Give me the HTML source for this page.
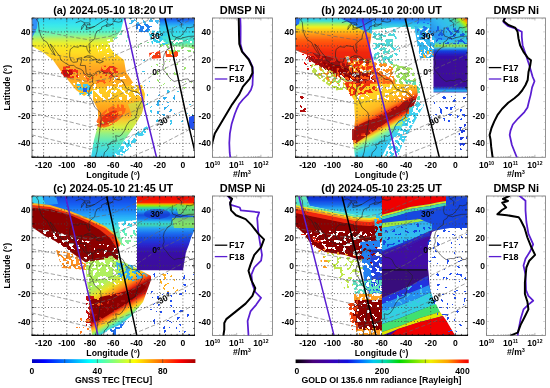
<!DOCTYPE html>
<html><head><meta charset="utf-8"><style>
html,body{margin:0;padding:0;background:#fff;}
svg{display:block;will-change:transform;}
text{font-family:"Liberation Sans",sans-serif;font-weight:bold;}
</style></head><body>
<svg width="550" height="388" viewBox="0 0 550 388">
<defs><filter id="blur" x="-5%" y="-5%" width="110%" height="110%"><feGaussianBlur stdDeviation="0.7"/></filter><filter id="fs05" x="0" y="0" width="550" height="388" filterUnits="userSpaceOnUse"><feTurbulence type="fractalNoise" baseFrequency="0.3" numOctaves="1" seed="7"/><feColorMatrix type="matrix" values="0 0 0 0 1 0 0 0 0 1 0 0 0 0 1 1 0 0 0 0"/><feComponentTransfer><feFuncA type="discrete" tableValues="0 0 0 0 0 0 0 0 0 0 0 0 0 0 0 0 0 0 0 0 0 0 0 0 0 0 0 1 1 1 1 1 1 1 1 1 1 1 1 1"/></feComponentTransfer></filter><mask id="s05" maskUnits="userSpaceOnUse" x="0" y="0" width="550" height="388"><rect x="0" y="0" width="550" height="388" fill="#fff" filter="url(#fs05)"/></mask><filter id="fs15" x="0" y="0" width="550" height="388" filterUnits="userSpaceOnUse"><feTurbulence type="fractalNoise" baseFrequency="0.3" numOctaves="1" seed="7"/><feColorMatrix type="matrix" values="0 0 0 0 1 0 0 0 0 1 0 0 0 0 1 1 0 0 0 0"/><feComponentTransfer><feFuncA type="discrete" tableValues="0 0 0 0 0 0 0 0 0 0 0 0 0 0 0 0 0 0 0 0 0 0 0 0 0 1 1 1 1 1 1 1 1 1 1 1 1 1 1 1"/></feComponentTransfer></filter><mask id="s15" maskUnits="userSpaceOnUse" x="0" y="0" width="550" height="388"><rect x="0" y="0" width="550" height="388" fill="#fff" filter="url(#fs15)"/></mask><filter id="fs30" x="0" y="0" width="550" height="388" filterUnits="userSpaceOnUse"><feTurbulence type="fractalNoise" baseFrequency="0.3" numOctaves="1" seed="7"/><feColorMatrix type="matrix" values="0 0 0 0 1 0 0 0 0 1 0 0 0 0 1 1 0 0 0 0"/><feComponentTransfer><feFuncA type="discrete" tableValues="0 0 0 0 0 0 0 0 0 0 0 0 0 0 0 0 0 0 0 0 0 0 0 1 1 1 1 1 1 1 1 1 1 1 1 1 1 1 1 1"/></feComponentTransfer></filter><mask id="s30" maskUnits="userSpaceOnUse" x="0" y="0" width="550" height="388"><rect x="0" y="0" width="550" height="388" fill="#fff" filter="url(#fs30)"/></mask><filter id="fs50" x="0" y="0" width="550" height="388" filterUnits="userSpaceOnUse"><feTurbulence type="fractalNoise" baseFrequency="0.3" numOctaves="1" seed="7"/><feColorMatrix type="matrix" values="0 0 0 0 1 0 0 0 0 1 0 0 0 0 1 1 0 0 0 0"/><feComponentTransfer><feFuncA type="discrete" tableValues="0 0 0 0 0 0 0 0 0 0 0 0 0 0 0 0 0 0 0 0 1 1 1 1 1 1 1 1 1 1 1 1 1 1 1 1 1 1 1 1"/></feComponentTransfer></filter><mask id="s50" maskUnits="userSpaceOnUse" x="0" y="0" width="550" height="388"><rect x="0" y="0" width="550" height="388" fill="#fff" filter="url(#fs50)"/></mask><filter id="fs70" x="0" y="0" width="550" height="388" filterUnits="userSpaceOnUse"><feTurbulence type="fractalNoise" baseFrequency="0.3" numOctaves="1" seed="7"/><feColorMatrix type="matrix" values="0 0 0 0 1 0 0 0 0 1 0 0 0 0 1 1 0 0 0 0"/><feComponentTransfer><feFuncA type="discrete" tableValues="0 0 0 0 0 0 0 0 0 0 0 0 0 0 0 0 0 1 1 1 1 1 1 1 1 1 1 1 1 1 1 1 1 1 1 1 1 1 1 1"/></feComponentTransfer></filter><mask id="s70" maskUnits="userSpaceOnUse" x="0" y="0" width="550" height="388"><rect x="0" y="0" width="550" height="388" fill="#fff" filter="url(#fs70)"/></mask><filter id="fs85" x="0" y="0" width="550" height="388" filterUnits="userSpaceOnUse"><feTurbulence type="fractalNoise" baseFrequency="0.3" numOctaves="1" seed="7"/><feColorMatrix type="matrix" values="0 0 0 0 1 0 0 0 0 1 0 0 0 0 1 1 0 0 0 0"/><feComponentTransfer><feFuncA type="discrete" tableValues="0 0 0 0 0 0 0 0 0 0 0 0 0 0 0 1 1 1 1 1 1 1 1 1 1 1 1 1 1 1 1 1 1 1 1 1 1 1 1 1"/></feComponentTransfer></filter><mask id="s85" maskUnits="userSpaceOnUse" x="0" y="0" width="550" height="388"><rect x="0" y="0" width="550" height="388" fill="#fff" filter="url(#fs85)"/></mask><clipPath id="clipa"><rect x="32" y="18" width="162.5" height="139.3"/></clipPath><linearGradient id="g1" gradientUnits="userSpaceOnUse" x1="0" y1="18" x2="0" y2="92"><stop offset="0.0000" stop-color="#30d0f8"/><stop offset="0.0946" stop-color="#38e8ec"/><stop offset="0.1757" stop-color="#50f0d0"/><stop offset="0.2297" stop-color="#80f4a0"/><stop offset="0.2838" stop-color="#c0f058"/><stop offset="0.3378" stop-color="#e8f030"/><stop offset="0.3919" stop-color="#f8e820"/><stop offset="0.4730" stop-color="#ffdc20"/><stop offset="0.5541" stop-color="#ffc820"/><stop offset="0.6351" stop-color="#ffb020"/><stop offset="0.7162" stop-color="#ffa020"/><stop offset="0.8243" stop-color="#ffa820"/><stop offset="1.0000" stop-color="#ffc020"/></linearGradient><linearGradient id="g2" gradientUnits="userSpaceOnUse" x1="0" y1="85" x2="0" y2="157.3"><stop offset="0.0000" stop-color="#ffd020"/><stop offset="0.1383" stop-color="#ffc820"/><stop offset="0.2628" stop-color="#ffb020"/><stop offset="0.3734" stop-color="#ff9818"/><stop offset="0.4841" stop-color="#f8c830"/><stop offset="0.5809" stop-color="#d8f040"/><stop offset="0.6777" stop-color="#90f088"/><stop offset="0.8022" stop-color="#50e8c8"/><stop offset="0.9959" stop-color="#38d0f0"/></linearGradient><linearGradient id="g3" gradientUnits="userSpaceOnUse" x1="0" y1="18" x2="0" y2="50"><stop offset="0.0000" stop-color="#1848e8"/><stop offset="0.1250" stop-color="#2088f8"/><stop offset="0.2812" stop-color="#30c8f0"/><stop offset="0.5312" stop-color="#38e0e8"/><stop offset="0.7500" stop-color="#50e8c0"/><stop offset="0.9375" stop-color="#a0f080"/></linearGradient><clipPath id="clipb"><rect x="295.5" y="18" width="172.1" height="139.3"/></clipPath><linearGradient id="g4" gradientUnits="userSpaceOnUse" x1="0" y1="18" x2="0" y2="92"><stop offset="0.0000" stop-color="#28c0f8"/><stop offset="0.0405" stop-color="#40e0d0"/><stop offset="0.0811" stop-color="#a0f060"/><stop offset="0.1216" stop-color="#f0f020"/><stop offset="0.1757" stop-color="#ffc018"/><stop offset="0.2297" stop-color="#ff9018"/><stop offset="0.2973" stop-color="#ff6010"/><stop offset="0.3784" stop-color="#ff4010"/><stop offset="0.4595" stop-color="#f02810"/><stop offset="0.5946" stop-color="#e82010"/><stop offset="0.7703" stop-color="#ff5010"/><stop offset="1.0000" stop-color="#ff8018"/></linearGradient><linearGradient id="g5" gradientUnits="userSpaceOnUse" x1="0" y1="18" x2="0" y2="34"><stop offset="0.0000" stop-color="#1848e8"/><stop offset="0.5000" stop-color="#2090f8"/><stop offset="1.0000" stop-color="#40d0e0"/></linearGradient><linearGradient id="g6" gradientUnits="userSpaceOnUse" x1="0" y1="18" x2="0" y2="30"><stop offset="0.0000" stop-color="#2060f0"/><stop offset="0.3333" stop-color="#20a8f8"/><stop offset="0.7500" stop-color="#40d8e0"/><stop offset="1.0000" stop-color="#60e8c0"/></linearGradient><linearGradient id="g7" gradientUnits="userSpaceOnUse" x1="365" y1="103" x2="386" y2="143"><stop offset="0.0000" stop-color="#ffd020"/><stop offset="0.2000" stop-color="#ffb820"/><stop offset="0.3200" stop-color="#ff8818"/><stop offset="0.4000" stop-color="#f03010"/><stop offset="0.4600" stop-color="#a00808"/><stop offset="0.5400" stop-color="#a00808"/><stop offset="0.6000" stop-color="#f03010"/><stop offset="0.6600" stop-color="#ff9018"/><stop offset="0.7200" stop-color="#e0f040"/><stop offset="0.8000" stop-color="#80f0a0"/><stop offset="0.9000" stop-color="#40d8e0"/><stop offset="1.0000" stop-color="#30c8f0"/></linearGradient><linearGradient id="g8" gradientUnits="userSpaceOnUse" x1="0" y1="28" x2="0" y2="93"><stop offset="0.0000" stop-color="#20b8f0"/><stop offset="0.1231" stop-color="#30d0e0"/><stop offset="0.2154" stop-color="#30c0f0"/><stop offset="0.2769" stop-color="#a0e840"/><stop offset="0.3077" stop-color="#40c0e0"/><stop offset="0.3538" stop-color="#1040e0"/><stop offset="0.4308" stop-color="#3010b0"/><stop offset="0.5231" stop-color="#3c0a9c"/><stop offset="0.8923" stop-color="#3c0a9c"/><stop offset="0.9385" stop-color="#2060e0"/><stop offset="0.9692" stop-color="#30c0f0"/><stop offset="1.0000" stop-color="#3c0a9c"/></linearGradient><linearGradient id="g9" gradientUnits="userSpaceOnUse" x1="440" y1="40" x2="467" y2="14"><stop offset="0.0000" stop-color="#2890f0"/><stop offset="0.3000" stop-color="#30b8f0"/><stop offset="0.5500" stop-color="#30c8e0"/><stop offset="0.6800" stop-color="#50e090"/><stop offset="0.7800" stop-color="#c0f000"/><stop offset="0.8600" stop-color="#ff9000"/><stop offset="0.9300" stop-color="#f00000"/><stop offset="1.0000" stop-color="#f00000"/></linearGradient><clipPath id="clipc"><rect x="32" y="196" width="162.5" height="139.4"/></clipPath><linearGradient id="g10" gradientUnits="userSpaceOnUse" x1="0" y1="196" x2="0" y2="240"><stop offset="0.0000" stop-color="#1040d8"/><stop offset="0.1591" stop-color="#1458f0"/><stop offset="0.3182" stop-color="#1c80f8"/><stop offset="0.4773" stop-color="#28b0f8"/><stop offset="0.6364" stop-color="#38d8f0"/><stop offset="0.8182" stop-color="#60f0c0"/><stop offset="1.0000" stop-color="#80f0a0"/></linearGradient><linearGradient id="g11" gradientUnits="userSpaceOnUse" x1="108" y1="280" x2="133" y2="323.3"><stop offset="0.0000" stop-color="#b0f060"/><stop offset="0.1500" stop-color="#f0e020"/><stop offset="0.2700" stop-color="#ff9018"/><stop offset="0.3600" stop-color="#f03010"/><stop offset="0.4200" stop-color="#a00808"/><stop offset="0.5500" stop-color="#a00808"/><stop offset="0.6000" stop-color="#e02010"/><stop offset="0.6600" stop-color="#ff8018"/><stop offset="0.7200" stop-color="#ffd020"/><stop offset="0.7800" stop-color="#a0f060"/><stop offset="0.8500" stop-color="#40e0d0"/><stop offset="0.9200" stop-color="#2098f0"/><stop offset="1.0000" stop-color="#2060f0"/></linearGradient><linearGradient id="g12" gradientUnits="userSpaceOnUse" x1="0" y1="196" x2="0" y2="272"><stop offset="0.0000" stop-color="#f00000"/><stop offset="0.0855" stop-color="#f82000"/><stop offset="0.1053" stop-color="#ffa000"/><stop offset="0.1250" stop-color="#a0e800"/><stop offset="0.1579" stop-color="#30d8a0"/><stop offset="0.1974" stop-color="#20a8f0"/><stop offset="0.2500" stop-color="#1850e0"/><stop offset="0.3026" stop-color="#1878f0"/><stop offset="0.3421" stop-color="#30c8e0"/><stop offset="0.3816" stop-color="#40d8b0"/><stop offset="0.4211" stop-color="#28a8f0"/><stop offset="0.4868" stop-color="#1c70f0"/><stop offset="0.5526" stop-color="#1848e0"/><stop offset="0.6316" stop-color="#2828d0"/><stop offset="0.7105" stop-color="#3414b0"/><stop offset="0.7895" stop-color="#3a0ca4"/><stop offset="1.0000" stop-color="#3c0a9c"/></linearGradient><clipPath id="clipd"><rect x="295.5" y="196" width="172.1" height="139.4"/></clipPath><linearGradient id="g13" gradientUnits="userSpaceOnUse" x1="0" y1="196" x2="0" y2="216"><stop offset="0.0000" stop-color="#0a28c8"/><stop offset="0.2000" stop-color="#1040e0"/><stop offset="0.4500" stop-color="#1870f0"/><stop offset="0.6500" stop-color="#28b0f0"/><stop offset="0.9000" stop-color="#40d8e0"/></linearGradient><linearGradient id="g14" gradientUnits="userSpaceOnUse" x1="0" y1="196" x2="0" y2="206"><stop offset="0.0000" stop-color="#70ecb0"/><stop offset="1.0000" stop-color="#40d8e0"/></linearGradient><linearGradient id="g15" gradientUnits="userSpaceOnUse" x1="0" y1="222" x2="0" y2="252"><stop offset="0.0000" stop-color="#30b0f0"/><stop offset="0.5000" stop-color="#30c0f0"/><stop offset="1.0000" stop-color="#2090f0"/></linearGradient><linearGradient id="g16" gradientUnits="userSpaceOnUse" x1="32" y1="0" x2="195.4" y2="0"><stop offset="0.0000" stop-color="#0000bc"/><stop offset="0.0250" stop-color="#0000d3"/><stop offset="0.0500" stop-color="#0000ea"/><stop offset="0.0750" stop-color="#0002ff"/><stop offset="0.1000" stop-color="#0019ff"/><stop offset="0.1250" stop-color="#0030ff"/><stop offset="0.1500" stop-color="#0047ff"/><stop offset="0.1750" stop-color="#005eff"/><stop offset="0.2000" stop-color="#0075ff"/><stop offset="0.2250" stop-color="#008cff"/><stop offset="0.2500" stop-color="#00a3ff"/><stop offset="0.2750" stop-color="#00baff"/><stop offset="0.3000" stop-color="#00d1ff"/><stop offset="0.3250" stop-color="#00e8ff"/><stop offset="0.3500" stop-color="#00ffff"/><stop offset="0.3750" stop-color="#16ffe8"/><stop offset="0.4000" stop-color="#2dffd1"/><stop offset="0.4250" stop-color="#44ffba"/><stop offset="0.4500" stop-color="#5bffa3"/><stop offset="0.4750" stop-color="#72ff8c"/><stop offset="0.5000" stop-color="#89ff75"/><stop offset="0.5250" stop-color="#a0ff5e"/><stop offset="0.5500" stop-color="#b7ff47"/><stop offset="0.5750" stop-color="#ceff30"/><stop offset="0.6000" stop-color="#e5ff19"/><stop offset="0.6250" stop-color="#fcff02"/><stop offset="0.6500" stop-color="#ffea00"/><stop offset="0.6750" stop-color="#ffd300"/><stop offset="0.7000" stop-color="#ffbc00"/><stop offset="0.7250" stop-color="#ffa500"/><stop offset="0.7500" stop-color="#ff8e00"/><stop offset="0.7750" stop-color="#ff7700"/><stop offset="0.8000" stop-color="#ff6000"/><stop offset="0.8250" stop-color="#ff4900"/><stop offset="0.8500" stop-color="#ff3300"/><stop offset="0.8750" stop-color="#ff1c00"/><stop offset="0.9000" stop-color="#ff0500"/><stop offset="0.9250" stop-color="#ed0000"/><stop offset="0.9500" stop-color="#d60000"/><stop offset="0.9750" stop-color="#bf0000"/><stop offset="1.0000" stop-color="#a80000"/></linearGradient><linearGradient id="g17" gradientUnits="userSpaceOnUse" x1="295.6" y1="0" x2="468.7" y2="0"><stop offset="0.0000" stop-color="#000000"/><stop offset="0.1000" stop-color="#48007a"/><stop offset="0.2000" stop-color="#3a00b0"/><stop offset="0.3000" stop-color="#1010e0"/><stop offset="0.3800" stop-color="#0070ff"/><stop offset="0.4500" stop-color="#00c8f0"/><stop offset="0.5200" stop-color="#00d8a0"/><stop offset="0.6000" stop-color="#00d800"/><stop offset="0.7000" stop-color="#80e800"/><stop offset="0.7800" stop-color="#f0f000"/><stop offset="0.8800" stop-color="#ffa000"/><stop offset="0.9500" stop-color="#ff3000"/><stop offset="1.0000" stop-color="#f00000"/></linearGradient></defs>
<g clip-path="url(#clipa)">
<rect x="32" y="18" width="162.5" height="139.3" fill="#fff"/>
<g filter="url(#blur)">
<polygon points="32,18 124,18 121,30 113,42 110,48 116,54 124,60 126,72 134,84 142,88 93,90 84,96 76,90 68,80 60,70 53,60 44,53 32,46" fill="url(#g1)"/>
<polygon points="32,18 38,18 37,28 32,38" fill="#3090f8"/>
<polygon points="70,76 134,76 142,88 93,90 84,96 76,90" fill="#ffffff" mask="url(#s30)"/>
<polygon points="106,40 124,36 124,56 112,50" fill="#ffffff" mask="url(#s50)"/>
<polygon points="60,67 70,66 78,70 78,78 66,78 61,73" fill="#f03018" mask="url(#s50)"/>
<polygon points="62,70 72,70 74,76 64,77" fill="#c81010" mask="url(#s70)"/>
<polygon points="102,66 112,65 118,69 118,77 106,77 100,72" fill="#f03018" mask="url(#s50)"/>
<polygon points="84,74 112,75 112,84 88,84" fill="#ff6018" mask="url(#s30)"/>
<polygon points="96,44 122,40 122,60 100,56" fill="#ffffff" mask="url(#s15)"/>
<polygon points="76,84 92,84 92,96 80,96" fill="#40c8f0" mask="url(#s50)"/>
<polygon points="83,88 87,88 87,92 83,92" fill="#2060f0"/>
<polygon points="93,88 142,85 145,94 144,104 142,113 136.5,122.7 129,134 123.3,141.5 117.7,151 112,157.3 91,157.3 94,140 98,125 98,110 93,100" fill="url(#g2)"/>
<polygon points="93,86 142,85 145,94 140,100 95,100" fill="#ffffff" mask="url(#s30)"/>
<ellipse cx="111.0" cy="116.0" rx="17.0" ry="8.0" transform="rotate(-35 111.0 116.0)" fill="#ff6018" fill-opacity="0.9" mask="url(#s70)"/>
<ellipse cx="109.0" cy="118.0" rx="11.0" ry="5.0" transform="rotate(-35 109.0 118.0)" fill="#e82810" fill-opacity="0.9" mask="url(#s85)"/>
<polygon points="128,104 144,100 142,113 136,123 128,132 124,128 132,116" fill="#c0f050" fill-opacity="0.6"/>
<polygon points="112,157.3 118,150 124,141 131,140 124,150 118,157.3" fill="#40d8f0" mask="url(#s50)"/>
<polygon points="118,152 132,140 146,126 150,129 136,142 122,156" fill="#40d0f0" mask="url(#s50)"/>
<polygon points="122,146 134,134 140,130 142,134 128,146" fill="#40d0f0" mask="url(#s30)"/>
<polygon points="160,18 194.5,18 194.5,48 184,47 172,46 164,42 159,32" fill="url(#g3)"/>
<polygon points="168,40 194.5,40 194.5,50 170,48" fill="#ffffff" mask="url(#s30)"/>
<polygon points="124,18 160,18 158,24 128,24" fill="#40b8f0" mask="url(#s30)"/>
<polygon points="112,30 130,28 130,42 114,44" fill="#80e0c0" mask="url(#s15)"/>
<polygon points="149,53 160,51 161,58 150,59" fill="#ff3810" mask="url(#s70)"/>
<polygon points="165,51 178,51 178,57 166,57" fill="#ff4818" mask="url(#s70)"/>
<polygon points="168,50 174,50 174,54 168,54" fill="#ffd020" mask="url(#s70)"/>
<polygon points="135,24 152,24 152,32 137,32" fill="#2080f0" mask="url(#s50)"/>
<polygon points="148,30 166,32 168,46 152,44" fill="#30d0f0" mask="url(#s50)"/>
<polygon points="138,42 152,42 152,48 138,48" fill="#80e090" mask="url(#s30)"/>
<polygon points="160,44 194.5,44 194.5,52 160,52" fill="#90e870" mask="url(#s30)"/>
<polygon points="140,60 194.5,58 194.5,126 150,126 145,100" fill="#40c8f0" mask="url(#s05)"/>
<polygon points="150,60 194.5,60 194.5,90 150,90" fill="#a0e870" mask="url(#s05)"/>
<polygon points="156,92 175,92 175,116 156,116" fill="#30b0f0" mask="url(#s15)"/>
<polygon points="189,117 194.5,115 194.5,130 189,128" fill="#2050f0"/>
</g>
<line x1="43.6" y1="18" x2="43.6" y2="157.3" stroke="#444" stroke-width="0.8" stroke-dasharray="1 2.2"/>
<line x1="66.8" y1="18" x2="66.8" y2="157.3" stroke="#444" stroke-width="0.8" stroke-dasharray="1 2.2"/>
<line x1="90" y1="18" x2="90" y2="157.3" stroke="#444" stroke-width="0.8" stroke-dasharray="1 2.2"/>
<line x1="113.2" y1="18" x2="113.2" y2="157.3" stroke="#444" stroke-width="0.8" stroke-dasharray="1 2.2"/>
<line x1="136.5" y1="18" x2="136.5" y2="157.3" stroke="#444" stroke-width="0.8" stroke-dasharray="1 2.2"/>
<line x1="159.7" y1="18" x2="159.7" y2="157.3" stroke="#444" stroke-width="0.8" stroke-dasharray="1 2.2"/>
<line x1="182.9" y1="18" x2="182.9" y2="157.3" stroke="#444" stroke-width="0.8" stroke-dasharray="1 2.2"/>
<line x1="32" y1="143.4" x2="194.5" y2="143.4" stroke="#444" stroke-width="0.8" stroke-dasharray="1 2.2"/>
<line x1="32" y1="129.4" x2="194.5" y2="129.4" stroke="#444" stroke-width="0.8" stroke-dasharray="1 2.2"/>
<line x1="32" y1="115.5" x2="194.5" y2="115.5" stroke="#444" stroke-width="0.8" stroke-dasharray="1 2.2"/>
<line x1="32" y1="101.6" x2="194.5" y2="101.6" stroke="#444" stroke-width="0.8" stroke-dasharray="1 2.2"/>
<line x1="32" y1="87.7" x2="194.5" y2="87.7" stroke="#444" stroke-width="0.8" stroke-dasharray="1 2.2"/>
<line x1="32" y1="73.7" x2="194.5" y2="73.7" stroke="#444" stroke-width="0.8" stroke-dasharray="1 2.2"/>
<line x1="32" y1="59.8" x2="194.5" y2="59.8" stroke="#444" stroke-width="0.8" stroke-dasharray="1 2.2"/>
<line x1="32" y1="45.9" x2="194.5" y2="45.9" stroke="#444" stroke-width="0.8" stroke-dasharray="1 2.2"/>
<line x1="32" y1="31.9" x2="194.5" y2="31.9" stroke="#444" stroke-width="0.8" stroke-dasharray="1 2.2"/>
<polyline points="32,29 66.8,36.1 90,40 110.9,36.1 136.5,25 157.4,16.6" fill="none" stroke="#666" stroke-width="0.6" stroke-linejoin="round" stroke-linecap="round" stroke-dasharray="3.5 3" stroke-linecap="butt"/>
<polyline points="32,50 66.8,57 90,61 110.9,57 136.5,45.9 157.4,35.6 194.5,18" fill="none" stroke="#666" stroke-width="0.6" stroke-linejoin="round" stroke-linecap="round" stroke-dasharray="3.5 3" stroke-linecap="butt"/>
<polyline points="32,70.9 66.8,77.9 90,81.9 110.9,77.9 136.5,66.8 157.4,54.2 194.5,36.1" fill="none" stroke="#666" stroke-width="0.6" stroke-linejoin="round" stroke-linecap="round" stroke-dasharray="3.5 3" stroke-linecap="butt"/>
<polyline points="32,92 66.8,98.8 90,103.9 110.9,98.8 136.5,86.3 157.4,72 194.5,54.2" fill="none" stroke="#666" stroke-width="0.6" stroke-linejoin="round" stroke-linecap="round" stroke-dasharray="3.5 3" stroke-linecap="butt"/>
<polyline points="32,113 66.8,121.1 90,126.9 110.9,121.1 136.5,109.9 159.7,97.4 194.5,79.3" fill="none" stroke="#666" stroke-width="0.6" stroke-linejoin="round" stroke-linecap="round" stroke-dasharray="3.5 3" stroke-linecap="butt"/>
<polyline points="32,134.9 66.8,143.4 90,148.9 110.9,143.4 136.5,133.6 163.2,121.1 194.5,104.4" fill="none" stroke="#666" stroke-width="0.6" stroke-linejoin="round" stroke-linecap="round" stroke-dasharray="3.5 3" stroke-linecap="butt"/>
<polyline points="32,155.9 66.8,164.3 110.9,164.3 136.5,154.5 163.2,143.4 194.5,126.7" fill="none" stroke="#666" stroke-width="0.6" stroke-linejoin="round" stroke-linecap="round" stroke-dasharray="3.5 3" stroke-linecap="butt"/>
<polyline points="35.5,18 38.4,22.2 39,29.1 40.7,35.4 43,39.6 47.1,42.4 48.8,45.9 50.6,49.3 52.9,52.8 55.2,55.6 54.1,52.8 52.3,48.6 50,44 52.3,45.9 54.1,48.6 56.4,52.1 59.9,56.3 60.7,59.8 64.5,62.6 69.1,65.4 73.8,65.4 76.1,67.5 80.8,69.3 83.1,70.9 83.7,73 85.4,74.4 87.7,76.1 90,77.2 91.2,75.1 92.9,77.2 92.4,82.1 93.5,83.5 90,87.7 88.9,91.8 88.9,96 91.2,98.8 94.7,107.2 100.5,112.7 101.3,119.7 99.9,129.4 98.7,139.2 97.6,146.2 97,151.7 95.3,157.3" fill="none" stroke="#222" stroke-width="0.6" stroke-linejoin="round" stroke-linecap="round" />
<polyline points="106.3,25 101.6,27.1 101.6,29.1 97,31.2 95.3,34.7 94.7,38.9 92.4,40.7 88.9,43.8 89.5,48.6 90,52.1 88.9,52.5 87.1,49.3 86.6,46.6 84.2,46.3 79.6,45.6 78.4,47.3 73.8,46.6 70.3,49.3 69.7,52.8 69.7,57 71.5,61.2 73.2,62.3 77.3,61.9 77.8,58.4 81.9,57.7 81.3,61.9 80.2,65.4 85.4,65.6 86,70.9 86,72.3 87.7,74.8 90.6,74.4 93.5,75.8 94.7,74.4 95.8,72.3 99.3,70.9 99.9,73 101.6,70.9 105.1,73 109.8,73 112.1,75.1 114.4,77.2 116.7,79.3 120.2,79.7 123.1,81.7 124.9,85.6 127.2,89 131.8,91.1 136.5,91.8 139.9,94.6 142.3,97.4 142.3,100.2 139.9,104.4 137.6,108.5 137,112.7 135.3,118.3 133,119.7 129.5,121.1 126.6,125.3 124.3,130.8 121.4,135 119.1,136.4 115.6,135.7 116.2,138.5 116.2,140.6 110.9,142 110.6,144.1 107.4,144.8 108.6,147.5 106.9,150.3 104.5,152.4 103.4,157.3" fill="none" stroke="#222" stroke-width="0.6" stroke-linejoin="round" stroke-linecap="round" />
<polyline points="84.2,57.3 87.7,55.6 92.4,56.3 96.8,59.5 92.9,59.9 90,57.4 86.6,57 84.2,57.3" fill="none" stroke="#222" stroke-width="0.6" stroke-linejoin="round" stroke-linecap="round" />
<polyline points="96.4,61.9 99.3,60.1 103.4,61.6 99.9,63 96.4,61.9" fill="none" stroke="#222" stroke-width="0.6" stroke-linejoin="round" stroke-linecap="round" />
<polyline points="76.1,22.6 80.8,20.8 84.8,22.9 81.9,26.4 81.3,29.6 83.1,27.1 84.8,23.9 87.1,27.8 91.2,27.3 94.7,26.4 90.3,28.4 86,29.6 87.1,24.5 90,25 89.5,22.9 84.8,22.9" fill="none" stroke="#222" stroke-width="0.6" stroke-linejoin="round" stroke-linecap="round" />
<polyline points="94.7,26.4 100.5,22.5 106.3,19.1 108,19.8 106.3,21.5 107.7,23.6 106.3,25" fill="none" stroke="#222" stroke-width="0.6" stroke-linejoin="round" stroke-linecap="round" />
<polyline points="106.3,25.7 108.6,24.3 112.1,24.3 113.2,23.3 109.8,25.7 106.3,26.6" fill="none" stroke="#222" stroke-width="0.6" stroke-linejoin="round" stroke-linecap="round" />
<polyline points="114.1,21.3 117.9,15.8 121.4,19.4 121.7,21.5 118.5,22.2 114.1,21.3" fill="none" stroke="#222" stroke-width="0.6" stroke-linejoin="round" stroke-linecap="round" />
<polyline points="172.4,27.8 171.9,33.3 172.7,36.1 175.9,37.1 176.5,37.5 180.6,36.4 182.9,33.7 186.4,29.1 186.7,27.3 189.9,27.8 194.5,26.4" fill="none" stroke="#222" stroke-width="0.6" stroke-linejoin="round" stroke-linecap="round" />
<polyline points="181.2,27.1 181.5,23.6 180,21.8 177.4,20.8 181,19.8 181.2,18.4 185.2,18" fill="none" stroke="#222" stroke-width="0.6" stroke-linejoin="round" stroke-linecap="round" />
<polyline points="194.5,36.1 192.8,36.2 188.7,36.4 182.9,37.8 180.6,38.8 176,37.8 175,40.3 171.9,42.4 171.5,46.6 167.8,49.2 166.1,51.4 164.3,54.2 163.2,58.4 163.7,60.5 164.1,64 162.8,67.2 163.5,70.2 165.5,72.3 167.2,74.4 169,77.2 171.3,79.3 174.2,81.5 178.2,80.4 181.7,80.7 184.1,79.3 188.1,78.9 189.9,81.7 192.8,81.4 194.2,82.8 194,85.6 193.7,89 194.5,91.1 196.6,93.9" fill="none" stroke="#222" stroke-width="0.6" stroke-linejoin="round" stroke-linecap="round" />
<polyline points="124.5,18 134.5,63 144.9,110 156.5,157.3" fill="none" stroke="#5a1ed2" stroke-width="1.5" stroke-linejoin="round" stroke-linecap="round" />
<polyline points="165,18 175.7,66.5 185,110 194.5,150" fill="none" stroke="#000" stroke-width="1.5" stroke-linejoin="round" stroke-linecap="round" />
<text x="156.8" y="38.6" transform="rotate(0 156.8 35.6)" font-family="Liberation Sans, sans-serif" font-weight="bold" font-size="8.6" text-anchor="middle" fill="#000">30°</text>
<text x="156.4" y="75.0" transform="rotate(0 156.4 72.0)" font-family="Liberation Sans, sans-serif" font-weight="bold" font-size="8.6" text-anchor="middle" fill="#000">0°</text>
<text x="163.2" y="124.1" transform="rotate(-28 163.2 121.1)" font-family="Liberation Sans, sans-serif" font-weight="bold" font-size="8.6" text-anchor="middle" fill="#000">-30°</text>
</g>
<rect x="32" y="18" width="162.5" height="139.3" fill="none" stroke="#666" stroke-width="0.9"/>
<line x1="31.6" y1="157.3" x2="194.9" y2="157.3" stroke="#111" stroke-width="1.1"/>
<line x1="32" y1="157.3" x2="32" y2="155.8" stroke="#000" stroke-width="0.6"/>
<line x1="32" y1="18" x2="32" y2="19.5" stroke="#000" stroke-width="0.6"/>
<line x1="37.8" y1="157.3" x2="37.8" y2="155.8" stroke="#000" stroke-width="0.6"/>
<line x1="37.8" y1="18" x2="37.8" y2="19.5" stroke="#000" stroke-width="0.6"/>
<line x1="43.6" y1="157.3" x2="43.6" y2="154.8" stroke="#000" stroke-width="0.6"/>
<line x1="43.6" y1="18" x2="43.6" y2="20.5" stroke="#000" stroke-width="0.6"/>
<line x1="49.4" y1="157.3" x2="49.4" y2="155.8" stroke="#000" stroke-width="0.6"/>
<line x1="49.4" y1="18" x2="49.4" y2="19.5" stroke="#000" stroke-width="0.6"/>
<line x1="55.2" y1="157.3" x2="55.2" y2="155.8" stroke="#000" stroke-width="0.6"/>
<line x1="55.2" y1="18" x2="55.2" y2="19.5" stroke="#000" stroke-width="0.6"/>
<line x1="61" y1="157.3" x2="61" y2="155.8" stroke="#000" stroke-width="0.6"/>
<line x1="61" y1="18" x2="61" y2="19.5" stroke="#000" stroke-width="0.6"/>
<line x1="66.8" y1="157.3" x2="66.8" y2="154.8" stroke="#000" stroke-width="0.6"/>
<line x1="66.8" y1="18" x2="66.8" y2="20.5" stroke="#000" stroke-width="0.6"/>
<line x1="72.6" y1="157.3" x2="72.6" y2="155.8" stroke="#000" stroke-width="0.6"/>
<line x1="72.6" y1="18" x2="72.6" y2="19.5" stroke="#000" stroke-width="0.6"/>
<line x1="78.4" y1="157.3" x2="78.4" y2="155.8" stroke="#000" stroke-width="0.6"/>
<line x1="78.4" y1="18" x2="78.4" y2="19.5" stroke="#000" stroke-width="0.6"/>
<line x1="84.2" y1="157.3" x2="84.2" y2="155.8" stroke="#000" stroke-width="0.6"/>
<line x1="84.2" y1="18" x2="84.2" y2="19.5" stroke="#000" stroke-width="0.6"/>
<line x1="90" y1="157.3" x2="90" y2="154.8" stroke="#000" stroke-width="0.6"/>
<line x1="90" y1="18" x2="90" y2="20.5" stroke="#000" stroke-width="0.6"/>
<line x1="95.8" y1="157.3" x2="95.8" y2="155.8" stroke="#000" stroke-width="0.6"/>
<line x1="95.8" y1="18" x2="95.8" y2="19.5" stroke="#000" stroke-width="0.6"/>
<line x1="101.6" y1="157.3" x2="101.6" y2="155.8" stroke="#000" stroke-width="0.6"/>
<line x1="101.6" y1="18" x2="101.6" y2="19.5" stroke="#000" stroke-width="0.6"/>
<line x1="107.4" y1="157.3" x2="107.4" y2="155.8" stroke="#000" stroke-width="0.6"/>
<line x1="107.4" y1="18" x2="107.4" y2="19.5" stroke="#000" stroke-width="0.6"/>
<line x1="113.2" y1="157.3" x2="113.2" y2="154.8" stroke="#000" stroke-width="0.6"/>
<line x1="113.2" y1="18" x2="113.2" y2="20.5" stroke="#000" stroke-width="0.6"/>
<line x1="119.1" y1="157.3" x2="119.1" y2="155.8" stroke="#000" stroke-width="0.6"/>
<line x1="119.1" y1="18" x2="119.1" y2="19.5" stroke="#000" stroke-width="0.6"/>
<line x1="124.9" y1="157.3" x2="124.9" y2="155.8" stroke="#000" stroke-width="0.6"/>
<line x1="124.9" y1="18" x2="124.9" y2="19.5" stroke="#000" stroke-width="0.6"/>
<line x1="130.7" y1="157.3" x2="130.7" y2="155.8" stroke="#000" stroke-width="0.6"/>
<line x1="130.7" y1="18" x2="130.7" y2="19.5" stroke="#000" stroke-width="0.6"/>
<line x1="136.5" y1="157.3" x2="136.5" y2="154.8" stroke="#000" stroke-width="0.6"/>
<line x1="136.5" y1="18" x2="136.5" y2="20.5" stroke="#000" stroke-width="0.6"/>
<line x1="142.3" y1="157.3" x2="142.3" y2="155.8" stroke="#000" stroke-width="0.6"/>
<line x1="142.3" y1="18" x2="142.3" y2="19.5" stroke="#000" stroke-width="0.6"/>
<line x1="148.1" y1="157.3" x2="148.1" y2="155.8" stroke="#000" stroke-width="0.6"/>
<line x1="148.1" y1="18" x2="148.1" y2="19.5" stroke="#000" stroke-width="0.6"/>
<line x1="153.9" y1="157.3" x2="153.9" y2="155.8" stroke="#000" stroke-width="0.6"/>
<line x1="153.9" y1="18" x2="153.9" y2="19.5" stroke="#000" stroke-width="0.6"/>
<line x1="159.7" y1="157.3" x2="159.7" y2="154.8" stroke="#000" stroke-width="0.6"/>
<line x1="159.7" y1="18" x2="159.7" y2="20.5" stroke="#000" stroke-width="0.6"/>
<line x1="165.5" y1="157.3" x2="165.5" y2="155.8" stroke="#000" stroke-width="0.6"/>
<line x1="165.5" y1="18" x2="165.5" y2="19.5" stroke="#000" stroke-width="0.6"/>
<line x1="171.3" y1="157.3" x2="171.3" y2="155.8" stroke="#000" stroke-width="0.6"/>
<line x1="171.3" y1="18" x2="171.3" y2="19.5" stroke="#000" stroke-width="0.6"/>
<line x1="177.1" y1="157.3" x2="177.1" y2="155.8" stroke="#000" stroke-width="0.6"/>
<line x1="177.1" y1="18" x2="177.1" y2="19.5" stroke="#000" stroke-width="0.6"/>
<line x1="182.9" y1="157.3" x2="182.9" y2="154.8" stroke="#000" stroke-width="0.6"/>
<line x1="182.9" y1="18" x2="182.9" y2="20.5" stroke="#000" stroke-width="0.6"/>
<line x1="188.7" y1="157.3" x2="188.7" y2="155.8" stroke="#000" stroke-width="0.6"/>
<line x1="188.7" y1="18" x2="188.7" y2="19.5" stroke="#000" stroke-width="0.6"/>
<line x1="194.5" y1="157.3" x2="194.5" y2="155.8" stroke="#000" stroke-width="0.6"/>
<line x1="194.5" y1="18" x2="194.5" y2="19.5" stroke="#000" stroke-width="0.6"/>
<line x1="32" y1="157.3" x2="34.5" y2="157.3" stroke="#000" stroke-width="0.6"/>
<line x1="194.5" y1="157.3" x2="192" y2="157.3" stroke="#000" stroke-width="0.6"/>
<line x1="32" y1="150.3" x2="33.5" y2="150.3" stroke="#000" stroke-width="0.6"/>
<line x1="194.5" y1="150.3" x2="193" y2="150.3" stroke="#000" stroke-width="0.6"/>
<line x1="32" y1="143.4" x2="34.5" y2="143.4" stroke="#000" stroke-width="0.6"/>
<line x1="194.5" y1="143.4" x2="192" y2="143.4" stroke="#000" stroke-width="0.6"/>
<line x1="32" y1="136.4" x2="33.5" y2="136.4" stroke="#000" stroke-width="0.6"/>
<line x1="194.5" y1="136.4" x2="193" y2="136.4" stroke="#000" stroke-width="0.6"/>
<line x1="32" y1="129.4" x2="34.5" y2="129.4" stroke="#000" stroke-width="0.6"/>
<line x1="194.5" y1="129.4" x2="192" y2="129.4" stroke="#000" stroke-width="0.6"/>
<line x1="32" y1="122.5" x2="33.5" y2="122.5" stroke="#000" stroke-width="0.6"/>
<line x1="194.5" y1="122.5" x2="193" y2="122.5" stroke="#000" stroke-width="0.6"/>
<line x1="32" y1="115.5" x2="34.5" y2="115.5" stroke="#000" stroke-width="0.6"/>
<line x1="194.5" y1="115.5" x2="192" y2="115.5" stroke="#000" stroke-width="0.6"/>
<line x1="32" y1="108.5" x2="33.5" y2="108.5" stroke="#000" stroke-width="0.6"/>
<line x1="194.5" y1="108.5" x2="193" y2="108.5" stroke="#000" stroke-width="0.6"/>
<line x1="32" y1="101.6" x2="34.5" y2="101.6" stroke="#000" stroke-width="0.6"/>
<line x1="194.5" y1="101.6" x2="192" y2="101.6" stroke="#000" stroke-width="0.6"/>
<line x1="32" y1="94.6" x2="33.5" y2="94.6" stroke="#000" stroke-width="0.6"/>
<line x1="194.5" y1="94.6" x2="193" y2="94.6" stroke="#000" stroke-width="0.6"/>
<line x1="32" y1="87.7" x2="34.5" y2="87.7" stroke="#000" stroke-width="0.6"/>
<line x1="194.5" y1="87.7" x2="192" y2="87.7" stroke="#000" stroke-width="0.6"/>
<line x1="32" y1="80.7" x2="33.5" y2="80.7" stroke="#000" stroke-width="0.6"/>
<line x1="194.5" y1="80.7" x2="193" y2="80.7" stroke="#000" stroke-width="0.6"/>
<line x1="32" y1="73.7" x2="34.5" y2="73.7" stroke="#000" stroke-width="0.6"/>
<line x1="194.5" y1="73.7" x2="192" y2="73.7" stroke="#000" stroke-width="0.6"/>
<line x1="32" y1="66.8" x2="33.5" y2="66.8" stroke="#000" stroke-width="0.6"/>
<line x1="194.5" y1="66.8" x2="193" y2="66.8" stroke="#000" stroke-width="0.6"/>
<line x1="32" y1="59.8" x2="34.5" y2="59.8" stroke="#000" stroke-width="0.6"/>
<line x1="194.5" y1="59.8" x2="192" y2="59.8" stroke="#000" stroke-width="0.6"/>
<line x1="32" y1="52.8" x2="33.5" y2="52.8" stroke="#000" stroke-width="0.6"/>
<line x1="194.5" y1="52.8" x2="193" y2="52.8" stroke="#000" stroke-width="0.6"/>
<line x1="32" y1="45.9" x2="34.5" y2="45.9" stroke="#000" stroke-width="0.6"/>
<line x1="194.5" y1="45.9" x2="192" y2="45.9" stroke="#000" stroke-width="0.6"/>
<line x1="32" y1="38.9" x2="33.5" y2="38.9" stroke="#000" stroke-width="0.6"/>
<line x1="194.5" y1="38.9" x2="193" y2="38.9" stroke="#000" stroke-width="0.6"/>
<line x1="32" y1="31.9" x2="34.5" y2="31.9" stroke="#000" stroke-width="0.6"/>
<line x1="194.5" y1="31.9" x2="192" y2="31.9" stroke="#000" stroke-width="0.6"/>
<line x1="32" y1="25" x2="33.5" y2="25" stroke="#000" stroke-width="0.6"/>
<line x1="194.5" y1="25" x2="193" y2="25" stroke="#000" stroke-width="0.6"/>
<line x1="32" y1="18" x2="34.5" y2="18" stroke="#000" stroke-width="0.6"/>
<line x1="194.5" y1="18" x2="192" y2="18" stroke="#000" stroke-width="0.6"/>
<text x="43.6" y="168.3" font-family="Liberation Sans, sans-serif" font-weight="bold" font-size="8.6" text-anchor="middle">-120</text>
<text x="66.8" y="168.3" font-family="Liberation Sans, sans-serif" font-weight="bold" font-size="8.6" text-anchor="middle">-100</text>
<text x="90" y="168.3" font-family="Liberation Sans, sans-serif" font-weight="bold" font-size="8.6" text-anchor="middle">-80</text>
<text x="113.2" y="168.3" font-family="Liberation Sans, sans-serif" font-weight="bold" font-size="8.6" text-anchor="middle">-60</text>
<text x="136.5" y="168.3" font-family="Liberation Sans, sans-serif" font-weight="bold" font-size="8.6" text-anchor="middle">-40</text>
<text x="159.7" y="168.3" font-family="Liberation Sans, sans-serif" font-weight="bold" font-size="8.6" text-anchor="middle">-20</text>
<text x="182.9" y="168.3" font-family="Liberation Sans, sans-serif" font-weight="bold" font-size="8.6" text-anchor="middle">0</text>
<text x="30.4" y="146.4" font-family="Liberation Sans, sans-serif" font-weight="bold" font-size="8.5" text-anchor="end">-40</text>
<text x="30.4" y="118.5" font-family="Liberation Sans, sans-serif" font-weight="bold" font-size="8.5" text-anchor="end">-20</text>
<text x="30.4" y="90.7" font-family="Liberation Sans, sans-serif" font-weight="bold" font-size="8.5" text-anchor="end">0</text>
<text x="30.4" y="62.8" font-family="Liberation Sans, sans-serif" font-weight="bold" font-size="8.5" text-anchor="end">20</text>
<text x="30.4" y="34.9" font-family="Liberation Sans, sans-serif" font-weight="bold" font-size="8.5" text-anchor="end">40</text>
<text x="113.2" y="177.8" font-family="Liberation Sans, sans-serif" font-weight="bold" font-size="8.7" text-anchor="middle">Longitude (°)</text>
<text transform="translate(10.2,87.7) rotate(-90)" font-family="Liberation Sans, sans-serif" font-weight="bold" font-size="8.7" text-anchor="middle">Latitude (°)</text>
<text x="113.2" y="13.6" font-family="Liberation Sans, sans-serif" font-weight="bold" font-size="10.85" text-anchor="middle">(a) 2024-05-10 18:20 UT</text>
<rect x="212.5" y="18" width="59.9" height="139.3" fill="#fff" stroke="#777" stroke-width="0.8"/>
<line x1="212.5" y1="157.3" x2="212.5" y2="154.8" stroke="#777" stroke-width="0.5"/>
<line x1="212.5" y1="18" x2="212.5" y2="20.5" stroke="#777" stroke-width="0.5"/>
<line x1="219.8" y1="157.3" x2="219.8" y2="156" stroke="#777" stroke-width="0.5"/>
<line x1="219.8" y1="18" x2="219.8" y2="19.3" stroke="#777" stroke-width="0.5"/>
<line x1="224" y1="157.3" x2="224" y2="156" stroke="#777" stroke-width="0.5"/>
<line x1="224" y1="18" x2="224" y2="19.3" stroke="#777" stroke-width="0.5"/>
<line x1="227.1" y1="157.3" x2="227.1" y2="156" stroke="#777" stroke-width="0.5"/>
<line x1="227.1" y1="18" x2="227.1" y2="19.3" stroke="#777" stroke-width="0.5"/>
<line x1="229.4" y1="157.3" x2="229.4" y2="156" stroke="#777" stroke-width="0.5"/>
<line x1="229.4" y1="18" x2="229.4" y2="19.3" stroke="#777" stroke-width="0.5"/>
<line x1="231.3" y1="157.3" x2="231.3" y2="156" stroke="#777" stroke-width="0.5"/>
<line x1="231.3" y1="18" x2="231.3" y2="19.3" stroke="#777" stroke-width="0.5"/>
<line x1="233" y1="157.3" x2="233" y2="156" stroke="#777" stroke-width="0.5"/>
<line x1="233" y1="18" x2="233" y2="19.3" stroke="#777" stroke-width="0.5"/>
<line x1="234.4" y1="157.3" x2="234.4" y2="156" stroke="#777" stroke-width="0.5"/>
<line x1="234.4" y1="18" x2="234.4" y2="19.3" stroke="#777" stroke-width="0.5"/>
<line x1="235.6" y1="157.3" x2="235.6" y2="156" stroke="#777" stroke-width="0.5"/>
<line x1="235.6" y1="18" x2="235.6" y2="19.3" stroke="#777" stroke-width="0.5"/>
<line x1="236.7" y1="157.3" x2="236.7" y2="154.8" stroke="#777" stroke-width="0.5"/>
<line x1="236.7" y1="18" x2="236.7" y2="20.5" stroke="#777" stroke-width="0.5"/>
<line x1="244" y1="157.3" x2="244" y2="156" stroke="#777" stroke-width="0.5"/>
<line x1="244" y1="18" x2="244" y2="19.3" stroke="#777" stroke-width="0.5"/>
<line x1="248.2" y1="157.3" x2="248.2" y2="156" stroke="#777" stroke-width="0.5"/>
<line x1="248.2" y1="18" x2="248.2" y2="19.3" stroke="#777" stroke-width="0.5"/>
<line x1="251.3" y1="157.3" x2="251.3" y2="156" stroke="#777" stroke-width="0.5"/>
<line x1="251.3" y1="18" x2="251.3" y2="19.3" stroke="#777" stroke-width="0.5"/>
<line x1="253.6" y1="157.3" x2="253.6" y2="156" stroke="#777" stroke-width="0.5"/>
<line x1="253.6" y1="18" x2="253.6" y2="19.3" stroke="#777" stroke-width="0.5"/>
<line x1="255.5" y1="157.3" x2="255.5" y2="156" stroke="#777" stroke-width="0.5"/>
<line x1="255.5" y1="18" x2="255.5" y2="19.3" stroke="#777" stroke-width="0.5"/>
<line x1="257.2" y1="157.3" x2="257.2" y2="156" stroke="#777" stroke-width="0.5"/>
<line x1="257.2" y1="18" x2="257.2" y2="19.3" stroke="#777" stroke-width="0.5"/>
<line x1="258.6" y1="157.3" x2="258.6" y2="156" stroke="#777" stroke-width="0.5"/>
<line x1="258.6" y1="18" x2="258.6" y2="19.3" stroke="#777" stroke-width="0.5"/>
<line x1="259.8" y1="157.3" x2="259.8" y2="156" stroke="#777" stroke-width="0.5"/>
<line x1="259.8" y1="18" x2="259.8" y2="19.3" stroke="#777" stroke-width="0.5"/>
<line x1="260.9" y1="157.3" x2="260.9" y2="154.8" stroke="#777" stroke-width="0.5"/>
<line x1="260.9" y1="18" x2="260.9" y2="20.5" stroke="#777" stroke-width="0.5"/>
<line x1="268.2" y1="157.3" x2="268.2" y2="156" stroke="#777" stroke-width="0.5"/>
<line x1="268.2" y1="18" x2="268.2" y2="19.3" stroke="#777" stroke-width="0.5"/>
<line x1="212.5" y1="157.3" x2="215" y2="157.3" stroke="#999" stroke-width="0.4"/>
<line x1="272.4" y1="157.3" x2="269.9" y2="157.3" stroke="#999" stroke-width="0.4"/>
<line x1="212.5" y1="150.3" x2="214" y2="150.3" stroke="#999" stroke-width="0.4"/>
<line x1="272.4" y1="150.3" x2="270.9" y2="150.3" stroke="#999" stroke-width="0.4"/>
<line x1="212.5" y1="143.4" x2="215" y2="143.4" stroke="#999" stroke-width="0.4"/>
<line x1="272.4" y1="143.4" x2="269.9" y2="143.4" stroke="#999" stroke-width="0.4"/>
<line x1="212.5" y1="136.4" x2="214" y2="136.4" stroke="#999" stroke-width="0.4"/>
<line x1="272.4" y1="136.4" x2="270.9" y2="136.4" stroke="#999" stroke-width="0.4"/>
<line x1="212.5" y1="129.4" x2="215" y2="129.4" stroke="#999" stroke-width="0.4"/>
<line x1="272.4" y1="129.4" x2="269.9" y2="129.4" stroke="#999" stroke-width="0.4"/>
<line x1="212.5" y1="122.5" x2="214" y2="122.5" stroke="#999" stroke-width="0.4"/>
<line x1="272.4" y1="122.5" x2="270.9" y2="122.5" stroke="#999" stroke-width="0.4"/>
<line x1="212.5" y1="115.5" x2="215" y2="115.5" stroke="#999" stroke-width="0.4"/>
<line x1="272.4" y1="115.5" x2="269.9" y2="115.5" stroke="#999" stroke-width="0.4"/>
<line x1="212.5" y1="108.5" x2="214" y2="108.5" stroke="#999" stroke-width="0.4"/>
<line x1="272.4" y1="108.5" x2="270.9" y2="108.5" stroke="#999" stroke-width="0.4"/>
<line x1="212.5" y1="101.6" x2="215" y2="101.6" stroke="#999" stroke-width="0.4"/>
<line x1="272.4" y1="101.6" x2="269.9" y2="101.6" stroke="#999" stroke-width="0.4"/>
<line x1="212.5" y1="94.6" x2="214" y2="94.6" stroke="#999" stroke-width="0.4"/>
<line x1="272.4" y1="94.6" x2="270.9" y2="94.6" stroke="#999" stroke-width="0.4"/>
<line x1="212.5" y1="87.7" x2="215" y2="87.7" stroke="#999" stroke-width="0.4"/>
<line x1="272.4" y1="87.7" x2="269.9" y2="87.7" stroke="#999" stroke-width="0.4"/>
<line x1="212.5" y1="80.7" x2="214" y2="80.7" stroke="#999" stroke-width="0.4"/>
<line x1="272.4" y1="80.7" x2="270.9" y2="80.7" stroke="#999" stroke-width="0.4"/>
<line x1="212.5" y1="73.7" x2="215" y2="73.7" stroke="#999" stroke-width="0.4"/>
<line x1="272.4" y1="73.7" x2="269.9" y2="73.7" stroke="#999" stroke-width="0.4"/>
<line x1="212.5" y1="66.8" x2="214" y2="66.8" stroke="#999" stroke-width="0.4"/>
<line x1="272.4" y1="66.8" x2="270.9" y2="66.8" stroke="#999" stroke-width="0.4"/>
<line x1="212.5" y1="59.8" x2="215" y2="59.8" stroke="#999" stroke-width="0.4"/>
<line x1="272.4" y1="59.8" x2="269.9" y2="59.8" stroke="#999" stroke-width="0.4"/>
<line x1="212.5" y1="52.8" x2="214" y2="52.8" stroke="#999" stroke-width="0.4"/>
<line x1="272.4" y1="52.8" x2="270.9" y2="52.8" stroke="#999" stroke-width="0.4"/>
<line x1="212.5" y1="45.9" x2="215" y2="45.9" stroke="#999" stroke-width="0.4"/>
<line x1="272.4" y1="45.9" x2="269.9" y2="45.9" stroke="#999" stroke-width="0.4"/>
<line x1="212.5" y1="38.9" x2="214" y2="38.9" stroke="#999" stroke-width="0.4"/>
<line x1="272.4" y1="38.9" x2="270.9" y2="38.9" stroke="#999" stroke-width="0.4"/>
<line x1="212.5" y1="31.9" x2="215" y2="31.9" stroke="#999" stroke-width="0.4"/>
<line x1="272.4" y1="31.9" x2="269.9" y2="31.9" stroke="#999" stroke-width="0.4"/>
<line x1="212.5" y1="25" x2="214" y2="25" stroke="#999" stroke-width="0.4"/>
<line x1="272.4" y1="25" x2="270.9" y2="25" stroke="#999" stroke-width="0.4"/>
<line x1="212.5" y1="18" x2="215" y2="18" stroke="#999" stroke-width="0.4"/>
<line x1="272.4" y1="18" x2="269.9" y2="18" stroke="#999" stroke-width="0.4"/>
<text x="210.9" y="146.4" font-family="Liberation Sans, sans-serif" font-weight="bold" font-size="8.5" text-anchor="end">-40</text>
<text x="210.9" y="118.5" font-family="Liberation Sans, sans-serif" font-weight="bold" font-size="8.5" text-anchor="end">-20</text>
<text x="210.9" y="90.7" font-family="Liberation Sans, sans-serif" font-weight="bold" font-size="8.5" text-anchor="end">0</text>
<text x="210.9" y="62.8" font-family="Liberation Sans, sans-serif" font-weight="bold" font-size="8.5" text-anchor="end">20</text>
<text x="210.9" y="34.9" font-family="Liberation Sans, sans-serif" font-weight="bold" font-size="8.5" text-anchor="end">40</text>
<text x="204.9" y="168.3" font-family="Liberation Sans, sans-serif" font-weight="bold" font-size="8.6"><tspan>10</tspan><tspan font-size="5" dy="-3.6">10</tspan></text>
<text x="229.1" y="168.3" font-family="Liberation Sans, sans-serif" font-weight="bold" font-size="8.6"><tspan>10</tspan><tspan font-size="5" dy="-3.6">11</tspan></text>
<text x="253.3" y="168.3" font-family="Liberation Sans, sans-serif" font-weight="bold" font-size="8.6"><tspan>10</tspan><tspan font-size="5" dy="-3.6">12</tspan></text>
<text x="233.1" y="177.1" font-family="Liberation Sans, sans-serif" font-weight="bold" font-size="8.6"><tspan>#/m</tspan><tspan font-size="5" dy="-3.6">3</tspan></text>
<text x="242.6" y="13.6" font-family="Liberation Sans, sans-serif" font-weight="bold" font-size="11" text-anchor="middle">DMSP Ni</text>
<defs><clipPath id="dca"><rect x="212.5" y="18" width="59.9" height="139.3"/></clipPath></defs>
<g clip-path="url(#dca)">
<polyline points="240.3,18 240.6,26 240.6,34.3 240.5,44 242.5,51.7 249.2,59.5 252.7,67.2 253,73 252.5,85 251,89.8 247.7,94.7 242.9,99.5 239,104.3 236.7,109.2 234.8,114 231.7,123.7 229.9,133.4 229.3,143 229.7,152.7 230.3,157.3" fill="none" stroke="#5a1ed2" stroke-width="1.75" stroke-linejoin="round" stroke-linecap="round" />
<polyline points="238.7,18 238.9,26 239,34.3 239.3,44 242,51.7 248.7,59.5 252.2,67.2 252.5,73 249.6,78.8 242.9,86.6 239,94.7 232.2,104.3 226.4,114 220.6,123.7 214.8,133.4 212.5,142 211,150" fill="none" stroke="#000" stroke-width="2.0" stroke-linejoin="round" stroke-linecap="round" />
</g>
<line x1="214.8" y1="67.6" x2="227.3" y2="67.6" stroke="#000" stroke-width="1.3"/>
<line x1="214.8" y1="79" x2="227.3" y2="79" stroke="#5a1ed2" stroke-width="1.3"/>
<text x="229" y="70.8" font-family="Liberation Sans, sans-serif" font-weight="bold" font-size="9">F17</text>
<text x="229" y="82.2" font-family="Liberation Sans, sans-serif" font-weight="bold" font-size="9">F18</text>
<g clip-path="url(#clipb)">
<rect x="295.5" y="18" width="172.1" height="139.3" fill="#fff"/>
<g filter="url(#blur)">
<polygon points="295.5,18 372,18 372,30 370,45 372,62 378,72 390,78 398,86 352,92 345,82 335,74 322,64 310,56 300,52 295.5,50" fill="url(#g4)"/>
<polygon points="295.5,18 300,18 299,24 295.5,26" fill="#2070f8"/>
<polygon points="340,18 372,18 372,34 362,30 350,23" fill="url(#g5)"/>
<polygon points="310,52 330,57 350,66 372,72 376,82 356,84 338,78 322,68 308,59" fill="#a00808" mask="url(#s70)"/>
<polygon points="322,62 345,68 360,76 350,80 330,72" fill="#900000" mask="url(#s50)"/>
<polygon points="335,72 398,76 398,92 345,92" fill="#ffffff" mask="url(#s30)"/>
<polygon points="300,52 322,58 325,72 305,70" fill="#e01010" mask="url(#s15)"/>
<polygon points="312,64 330,70 350,82 352,92 335,90 318,78 310,70" fill="#c0e050" mask="url(#s50)"/>
<polygon points="316,66 334,72 346,84 330,84 318,74" fill="#ff9020" mask="url(#s30)"/>
<polygon points="345,56 372,60 374,74 350,72" fill="#ffa020" mask="url(#s50)"/>
<polygon points="345,56 372,60 374,74 350,72" fill="#ffffff" mask="url(#s15)"/>
<polygon points="374,35 393,35 393,70 378,68" fill="#60d8c0" mask="url(#s50)"/>
<polygon points="330,76 352,80 352,92 335,90" fill="#90e070" mask="url(#s15)"/>
<polygon points="372,28 400,28 400,60 374,62" fill="#50d8e0" mask="url(#s30)"/>
<polygon points="372,60 400,62 418,85 396,86" fill="#a0e890" mask="url(#s15)"/>
<polygon points="372,62 392,64 396,86 376,86" fill="#ff9020" mask="url(#s50)"/>
<polygon points="392,64 412,68 418,86 396,86" fill="#a0e060" mask="url(#s50)"/>
<polygon points="404,80 420,82 420,100 408,100" fill="#60e0b0" mask="url(#s50)"/>
<polygon points="372,18 436,18 432,28 410,29 395,27 372,30" fill="url(#g6)"/>
<polygon points="395,27 420,27 420,48 398,46" fill="#ffffff" mask="url(#s70)"/>
<polygon points="414,26 436,28 436,58 420,58" fill="#30b8f0" mask="url(#s70)"/>
<polygon points="414,20 436,20 436,40 420,40" fill="#2070f0" mask="url(#s30)"/>
<polygon points="418,50 434,50 434,58 418,58" fill="#ffb020" mask="url(#s30)"/>
<polygon points="344,84 398,84 416.6,85 417.7,95 414,105 410,115 403.5,125 395.8,135 388,145 381.6,157.3 355,157.3 353,140 355,120 354,100" fill="url(#g7)"/>
<polygon points="344,84 418,85 412,100 354,100" fill="#ffffff" mask="url(#s30)"/>
<polygon points="344,82 372,80 378,92 350,96" fill="#f03010" mask="url(#s50)"/>
<polygon points="352,128 380,115 400,104 414,96 416,103 400,113 380,127 356,143 352,141" fill="#a00808" fill-opacity="0.9" mask="url(#s70)"/>
<polygon points="414,100 420,104 410,122 398,146 392,157.3 384,157.3 396,130" fill="#60e0d0" mask="url(#s50)"/>
<polygon points="395,125 420,100 424,105 410,130 400,150 398,157.3 385,157.3" fill="#40d0f0" mask="url(#s50)"/>
<polygon points="430,96 466,96 466,122 432,122" fill="#2050f0" mask="url(#s15)"/>
<polygon points="458,124 467.6,124 467.6,150 460,150" fill="#2040e0" mask="url(#s30)"/>
<polygon points="300,96 306,96 306,112 300,112" fill="#b01010" mask="url(#s30)"/>
<polygon points="436,28 467.6,28 467.6,92.5 433.5,92.5 433.5,50 436,40" fill="url(#g8)"/>
<polygon points="430,18 467.6,18 467.6,42 450,40 436,40 430,30" fill="url(#g9)"/>
<polygon points="436,26 467.6,30 467.6,44 436,44" fill="#1860e0" mask="url(#s30)"/>
</g>
<line x1="307.8" y1="18" x2="307.8" y2="157.3" stroke="#444" stroke-width="0.8" stroke-dasharray="1 2.2"/>
<line x1="332.4" y1="18" x2="332.4" y2="157.3" stroke="#444" stroke-width="0.8" stroke-dasharray="1 2.2"/>
<line x1="357" y1="18" x2="357" y2="157.3" stroke="#444" stroke-width="0.8" stroke-dasharray="1 2.2"/>
<line x1="381.6" y1="18" x2="381.6" y2="157.3" stroke="#444" stroke-width="0.8" stroke-dasharray="1 2.2"/>
<line x1="406.1" y1="18" x2="406.1" y2="157.3" stroke="#444" stroke-width="0.8" stroke-dasharray="1 2.2"/>
<line x1="430.7" y1="18" x2="430.7" y2="157.3" stroke="#444" stroke-width="0.8" stroke-dasharray="1 2.2"/>
<line x1="455.3" y1="18" x2="455.3" y2="157.3" stroke="#444" stroke-width="0.8" stroke-dasharray="1 2.2"/>
<line x1="295.5" y1="143.4" x2="467.6" y2="143.4" stroke="#444" stroke-width="0.8" stroke-dasharray="1 2.2"/>
<line x1="295.5" y1="129.4" x2="467.6" y2="129.4" stroke="#444" stroke-width="0.8" stroke-dasharray="1 2.2"/>
<line x1="295.5" y1="115.5" x2="467.6" y2="115.5" stroke="#444" stroke-width="0.8" stroke-dasharray="1 2.2"/>
<line x1="295.5" y1="101.6" x2="467.6" y2="101.6" stroke="#444" stroke-width="0.8" stroke-dasharray="1 2.2"/>
<line x1="295.5" y1="87.7" x2="467.6" y2="87.7" stroke="#444" stroke-width="0.8" stroke-dasharray="1 2.2"/>
<line x1="295.5" y1="73.7" x2="467.6" y2="73.7" stroke="#444" stroke-width="0.8" stroke-dasharray="1 2.2"/>
<line x1="295.5" y1="59.8" x2="467.6" y2="59.8" stroke="#444" stroke-width="0.8" stroke-dasharray="1 2.2"/>
<line x1="295.5" y1="45.9" x2="467.6" y2="45.9" stroke="#444" stroke-width="0.8" stroke-dasharray="1 2.2"/>
<line x1="295.5" y1="31.9" x2="467.6" y2="31.9" stroke="#444" stroke-width="0.8" stroke-dasharray="1 2.2"/>
<polyline points="295.5,29 332.4,36.1 357,40 379.1,36.1 406.1,25 428.3,16.6" fill="none" stroke="#666" stroke-width="0.6" stroke-linejoin="round" stroke-linecap="round" stroke-dasharray="3.5 3" stroke-linecap="butt"/>
<polyline points="295.5,50 332.4,57 357,61 379.1,57 406.1,45.9 428.3,35.6 467.6,18" fill="none" stroke="#666" stroke-width="0.6" stroke-linejoin="round" stroke-linecap="round" stroke-dasharray="3.5 3" stroke-linecap="butt"/>
<polyline points="295.5,70.9 332.4,77.9 357,81.9 379.1,77.9 406.1,66.8 428.3,54.2 467.6,36.1" fill="none" stroke="#666" stroke-width="0.6" stroke-linejoin="round" stroke-linecap="round" stroke-dasharray="3.5 3" stroke-linecap="butt"/>
<polyline points="295.5,92 332.4,98.8 357,103.9 379.1,98.8 406.1,86.3 428.3,72 467.6,54.2" fill="none" stroke="#666" stroke-width="0.6" stroke-linejoin="round" stroke-linecap="round" stroke-dasharray="3.5 3" stroke-linecap="butt"/>
<polyline points="295.5,113 332.4,121.1 357,126.9 379.1,121.1 406.1,109.9 430.7,97.4 467.6,79.3" fill="none" stroke="#666" stroke-width="0.6" stroke-linejoin="round" stroke-linecap="round" stroke-dasharray="3.5 3" stroke-linecap="butt"/>
<polyline points="295.5,134.9 332.4,143.4 357,148.9 379.1,143.4 406.1,133.6 434.4,121.1 467.6,104.4" fill="none" stroke="#666" stroke-width="0.6" stroke-linejoin="round" stroke-linecap="round" stroke-dasharray="3.5 3" stroke-linecap="butt"/>
<polyline points="295.5,155.9 332.4,164.3 379.1,164.3 406.1,154.5 434.4,143.4 467.6,126.7" fill="none" stroke="#666" stroke-width="0.6" stroke-linejoin="round" stroke-linecap="round" stroke-dasharray="3.5 3" stroke-linecap="butt"/>
<polyline points="299.2,18 302.3,22.2 302.9,29.1 304.7,35.4 307.2,39.6 311.5,42.4 313.3,45.9 315.2,49.3 317.6,52.8 320.1,55.6 318.9,52.8 317,48.6 314.6,44 317,45.9 318.9,48.6 321.3,52.1 325,56.3 325.9,59.8 329.9,62.6 334.8,65.4 339.8,65.4 342.2,67.5 347.1,69.3 349.6,70.9 350.2,73 352,74.4 354.5,76.1 357,77.2 358.2,75.1 360,77.2 359.4,82.1 360.7,83.5 357,87.7 355.7,91.8 355.7,96 358.2,98.8 361.9,107.2 368,112.7 368.9,119.7 367.4,129.4 366.2,139.2 365,146.2 364.3,151.7 362.5,157.3" fill="none" stroke="#222" stroke-width="0.6" stroke-linejoin="round" stroke-linecap="round" />
<polyline points="374.2,25 369.3,27.1 369.3,29.1 364.3,31.2 362.5,34.7 361.9,38.9 359.4,40.7 355.7,43.8 356.3,48.6 357,52.1 355.7,52.5 353.9,49.3 353.3,46.6 350.8,46.3 345.9,45.6 344.7,47.3 339.8,46.6 336.1,49.3 335.5,52.8 335.5,57 337.3,61.2 339.1,62.3 343.4,61.9 344.1,58.4 348.4,57.7 347.7,61.9 346.5,65.4 352,65.6 352.7,70.9 352.7,72.3 354.5,74.8 357.6,74.4 360.7,75.8 361.9,74.4 363.1,72.3 366.8,70.9 367.4,73 369.3,70.9 372.9,73 377.9,73 380.3,75.1 382.8,77.2 385.2,79.3 388.9,79.7 392,81.7 393.8,85.6 396.3,89 401.2,91.1 406.1,91.8 409.8,94.6 412.3,97.4 412.3,100.2 409.8,104.4 407.4,108.5 406.8,112.7 404.9,118.3 402.4,119.7 398.8,121.1 395.7,125.3 393.2,130.8 390.2,135 387.7,136.4 384,135.7 384.6,138.5 384.6,140.6 379.1,142 378.7,144.1 375.4,144.8 376.6,147.5 374.8,150.3 372.3,152.4 371.1,157.3" fill="none" stroke="#222" stroke-width="0.6" stroke-linejoin="round" stroke-linecap="round" />
<polyline points="350.8,57.3 354.5,55.6 359.4,56.3 364.1,59.5 360,59.9 357,57.4 353.3,57 350.8,57.3" fill="none" stroke="#222" stroke-width="0.6" stroke-linejoin="round" stroke-linecap="round" />
<polyline points="363.7,61.9 366.8,60.1 371.1,61.6 367.4,63 363.7,61.9" fill="none" stroke="#222" stroke-width="0.6" stroke-linejoin="round" stroke-linecap="round" />
<polyline points="342.2,22.6 347.1,20.8 351.4,22.9 348.4,26.4 347.7,29.6 349.6,27.1 351.4,23.9 353.9,27.8 358.2,27.3 361.9,26.4 357.2,28.4 352.7,29.6 353.9,24.5 357,25 356.3,22.9 351.4,22.9" fill="none" stroke="#222" stroke-width="0.6" stroke-linejoin="round" stroke-linecap="round" />
<polyline points="361.9,26.4 368,22.5 374.2,19.1 376,19.8 374.2,21.5 375.6,23.6 374.2,25" fill="none" stroke="#222" stroke-width="0.6" stroke-linejoin="round" stroke-linecap="round" />
<polyline points="374.2,25.7 376.6,24.3 380.3,24.3 381.6,23.3 377.9,25.7 374.2,26.6" fill="none" stroke="#222" stroke-width="0.6" stroke-linejoin="round" stroke-linecap="round" />
<polyline points="382.4,21.3 386.5,15.8 390.2,19.4 390.5,21.5 387.1,22.2 382.4,21.3" fill="none" stroke="#222" stroke-width="0.6" stroke-linejoin="round" stroke-linecap="round" />
<polyline points="444.2,27.8 443.6,33.3 444.5,36.1 447.9,37.1 448.5,37.5 452.8,36.4 455.3,33.7 459,29.1 459.4,27.3 462.7,27.8 467.6,26.4" fill="none" stroke="#222" stroke-width="0.6" stroke-linejoin="round" stroke-linecap="round" />
<polyline points="453.5,27.1 453.8,23.6 452.2,21.8 449.5,20.8 453.3,19.8 453.5,18.4 457.8,18" fill="none" stroke="#222" stroke-width="0.6" stroke-linejoin="round" stroke-linecap="round" />
<polyline points="467.6,36.1 465.8,36.2 461.5,36.4 455.3,37.8 452.8,38.8 448.1,37.8 446.9,40.3 443.6,42.4 443.3,46.6 439.3,49.2 437.5,51.4 435.6,54.2 434.4,58.4 435,60.5 435.4,64 434,67.2 434.8,70.2 436.9,72.3 438.7,74.4 440.6,77.2 443,79.3 446.1,81.5 450.4,80.4 454.1,80.7 456.5,79.3 460.8,78.9 462.7,81.7 465.8,81.4 467.2,82.8 467.1,85.6 466.7,89 467.6,91.1 469.8,93.9" fill="none" stroke="#222" stroke-width="0.6" stroke-linejoin="round" stroke-linecap="round" />
<polyline points="362,18 396.7,157.3" fill="none" stroke="#5a1ed2" stroke-width="1.5" stroke-linejoin="round" stroke-linecap="round" />
<polyline points="405,18 439.3,157.3" fill="none" stroke="#000" stroke-width="1.5" stroke-linejoin="round" stroke-linecap="round" />
<text x="427.6" y="38.6" transform="rotate(0 427.6 35.6)" font-family="Liberation Sans, sans-serif" font-weight="bold" font-size="8.6" text-anchor="middle" fill="#000">30°</text>
<text x="427.3" y="75.0" transform="rotate(0 427.3 72.0)" font-family="Liberation Sans, sans-serif" font-weight="bold" font-size="8.6" text-anchor="middle" fill="#000">0°</text>
<text x="434.4" y="124.1" transform="rotate(-28 434.4 121.1)" font-family="Liberation Sans, sans-serif" font-weight="bold" font-size="8.6" text-anchor="middle" fill="#000">-30°</text>
</g>
<rect x="295.5" y="18" width="172.1" height="139.3" fill="none" stroke="#666" stroke-width="0.9"/>
<line x1="295.1" y1="157.3" x2="468" y2="157.3" stroke="#111" stroke-width="1.1"/>
<line x1="295.5" y1="157.3" x2="295.5" y2="155.8" stroke="#000" stroke-width="0.6"/>
<line x1="295.5" y1="18" x2="295.5" y2="19.5" stroke="#000" stroke-width="0.6"/>
<line x1="301.6" y1="157.3" x2="301.6" y2="155.8" stroke="#000" stroke-width="0.6"/>
<line x1="301.6" y1="18" x2="301.6" y2="19.5" stroke="#000" stroke-width="0.6"/>
<line x1="307.8" y1="157.3" x2="307.8" y2="154.8" stroke="#000" stroke-width="0.6"/>
<line x1="307.8" y1="18" x2="307.8" y2="20.5" stroke="#000" stroke-width="0.6"/>
<line x1="313.9" y1="157.3" x2="313.9" y2="155.8" stroke="#000" stroke-width="0.6"/>
<line x1="313.9" y1="18" x2="313.9" y2="19.5" stroke="#000" stroke-width="0.6"/>
<line x1="320.1" y1="157.3" x2="320.1" y2="155.8" stroke="#000" stroke-width="0.6"/>
<line x1="320.1" y1="18" x2="320.1" y2="19.5" stroke="#000" stroke-width="0.6"/>
<line x1="326.2" y1="157.3" x2="326.2" y2="155.8" stroke="#000" stroke-width="0.6"/>
<line x1="326.2" y1="18" x2="326.2" y2="19.5" stroke="#000" stroke-width="0.6"/>
<line x1="332.4" y1="157.3" x2="332.4" y2="154.8" stroke="#000" stroke-width="0.6"/>
<line x1="332.4" y1="18" x2="332.4" y2="20.5" stroke="#000" stroke-width="0.6"/>
<line x1="338.5" y1="157.3" x2="338.5" y2="155.8" stroke="#000" stroke-width="0.6"/>
<line x1="338.5" y1="18" x2="338.5" y2="19.5" stroke="#000" stroke-width="0.6"/>
<line x1="344.7" y1="157.3" x2="344.7" y2="155.8" stroke="#000" stroke-width="0.6"/>
<line x1="344.7" y1="18" x2="344.7" y2="19.5" stroke="#000" stroke-width="0.6"/>
<line x1="350.8" y1="157.3" x2="350.8" y2="155.8" stroke="#000" stroke-width="0.6"/>
<line x1="350.8" y1="18" x2="350.8" y2="19.5" stroke="#000" stroke-width="0.6"/>
<line x1="357" y1="157.3" x2="357" y2="154.8" stroke="#000" stroke-width="0.6"/>
<line x1="357" y1="18" x2="357" y2="20.5" stroke="#000" stroke-width="0.6"/>
<line x1="363.1" y1="157.3" x2="363.1" y2="155.8" stroke="#000" stroke-width="0.6"/>
<line x1="363.1" y1="18" x2="363.1" y2="19.5" stroke="#000" stroke-width="0.6"/>
<line x1="369.3" y1="157.3" x2="369.3" y2="155.8" stroke="#000" stroke-width="0.6"/>
<line x1="369.3" y1="18" x2="369.3" y2="19.5" stroke="#000" stroke-width="0.6"/>
<line x1="375.4" y1="157.3" x2="375.4" y2="155.8" stroke="#000" stroke-width="0.6"/>
<line x1="375.4" y1="18" x2="375.4" y2="19.5" stroke="#000" stroke-width="0.6"/>
<line x1="381.6" y1="157.3" x2="381.6" y2="154.8" stroke="#000" stroke-width="0.6"/>
<line x1="381.6" y1="18" x2="381.6" y2="20.5" stroke="#000" stroke-width="0.6"/>
<line x1="387.7" y1="157.3" x2="387.7" y2="155.8" stroke="#000" stroke-width="0.6"/>
<line x1="387.7" y1="18" x2="387.7" y2="19.5" stroke="#000" stroke-width="0.6"/>
<line x1="393.8" y1="157.3" x2="393.8" y2="155.8" stroke="#000" stroke-width="0.6"/>
<line x1="393.8" y1="18" x2="393.8" y2="19.5" stroke="#000" stroke-width="0.6"/>
<line x1="400" y1="157.3" x2="400" y2="155.8" stroke="#000" stroke-width="0.6"/>
<line x1="400" y1="18" x2="400" y2="19.5" stroke="#000" stroke-width="0.6"/>
<line x1="406.1" y1="157.3" x2="406.1" y2="154.8" stroke="#000" stroke-width="0.6"/>
<line x1="406.1" y1="18" x2="406.1" y2="20.5" stroke="#000" stroke-width="0.6"/>
<line x1="412.3" y1="157.3" x2="412.3" y2="155.8" stroke="#000" stroke-width="0.6"/>
<line x1="412.3" y1="18" x2="412.3" y2="19.5" stroke="#000" stroke-width="0.6"/>
<line x1="418.4" y1="157.3" x2="418.4" y2="155.8" stroke="#000" stroke-width="0.6"/>
<line x1="418.4" y1="18" x2="418.4" y2="19.5" stroke="#000" stroke-width="0.6"/>
<line x1="424.6" y1="157.3" x2="424.6" y2="155.8" stroke="#000" stroke-width="0.6"/>
<line x1="424.6" y1="18" x2="424.6" y2="19.5" stroke="#000" stroke-width="0.6"/>
<line x1="430.7" y1="157.3" x2="430.7" y2="154.8" stroke="#000" stroke-width="0.6"/>
<line x1="430.7" y1="18" x2="430.7" y2="20.5" stroke="#000" stroke-width="0.6"/>
<line x1="436.9" y1="157.3" x2="436.9" y2="155.8" stroke="#000" stroke-width="0.6"/>
<line x1="436.9" y1="18" x2="436.9" y2="19.5" stroke="#000" stroke-width="0.6"/>
<line x1="443" y1="157.3" x2="443" y2="155.8" stroke="#000" stroke-width="0.6"/>
<line x1="443" y1="18" x2="443" y2="19.5" stroke="#000" stroke-width="0.6"/>
<line x1="449.2" y1="157.3" x2="449.2" y2="155.8" stroke="#000" stroke-width="0.6"/>
<line x1="449.2" y1="18" x2="449.2" y2="19.5" stroke="#000" stroke-width="0.6"/>
<line x1="455.3" y1="157.3" x2="455.3" y2="154.8" stroke="#000" stroke-width="0.6"/>
<line x1="455.3" y1="18" x2="455.3" y2="20.5" stroke="#000" stroke-width="0.6"/>
<line x1="461.5" y1="157.3" x2="461.5" y2="155.8" stroke="#000" stroke-width="0.6"/>
<line x1="461.5" y1="18" x2="461.5" y2="19.5" stroke="#000" stroke-width="0.6"/>
<line x1="467.6" y1="157.3" x2="467.6" y2="155.8" stroke="#000" stroke-width="0.6"/>
<line x1="467.6" y1="18" x2="467.6" y2="19.5" stroke="#000" stroke-width="0.6"/>
<line x1="295.5" y1="157.3" x2="298" y2="157.3" stroke="#000" stroke-width="0.6"/>
<line x1="467.6" y1="157.3" x2="465.1" y2="157.3" stroke="#000" stroke-width="0.6"/>
<line x1="295.5" y1="150.3" x2="297" y2="150.3" stroke="#000" stroke-width="0.6"/>
<line x1="467.6" y1="150.3" x2="466.1" y2="150.3" stroke="#000" stroke-width="0.6"/>
<line x1="295.5" y1="143.4" x2="298" y2="143.4" stroke="#000" stroke-width="0.6"/>
<line x1="467.6" y1="143.4" x2="465.1" y2="143.4" stroke="#000" stroke-width="0.6"/>
<line x1="295.5" y1="136.4" x2="297" y2="136.4" stroke="#000" stroke-width="0.6"/>
<line x1="467.6" y1="136.4" x2="466.1" y2="136.4" stroke="#000" stroke-width="0.6"/>
<line x1="295.5" y1="129.4" x2="298" y2="129.4" stroke="#000" stroke-width="0.6"/>
<line x1="467.6" y1="129.4" x2="465.1" y2="129.4" stroke="#000" stroke-width="0.6"/>
<line x1="295.5" y1="122.5" x2="297" y2="122.5" stroke="#000" stroke-width="0.6"/>
<line x1="467.6" y1="122.5" x2="466.1" y2="122.5" stroke="#000" stroke-width="0.6"/>
<line x1="295.5" y1="115.5" x2="298" y2="115.5" stroke="#000" stroke-width="0.6"/>
<line x1="467.6" y1="115.5" x2="465.1" y2="115.5" stroke="#000" stroke-width="0.6"/>
<line x1="295.5" y1="108.5" x2="297" y2="108.5" stroke="#000" stroke-width="0.6"/>
<line x1="467.6" y1="108.5" x2="466.1" y2="108.5" stroke="#000" stroke-width="0.6"/>
<line x1="295.5" y1="101.6" x2="298" y2="101.6" stroke="#000" stroke-width="0.6"/>
<line x1="467.6" y1="101.6" x2="465.1" y2="101.6" stroke="#000" stroke-width="0.6"/>
<line x1="295.5" y1="94.6" x2="297" y2="94.6" stroke="#000" stroke-width="0.6"/>
<line x1="467.6" y1="94.6" x2="466.1" y2="94.6" stroke="#000" stroke-width="0.6"/>
<line x1="295.5" y1="87.7" x2="298" y2="87.7" stroke="#000" stroke-width="0.6"/>
<line x1="467.6" y1="87.7" x2="465.1" y2="87.7" stroke="#000" stroke-width="0.6"/>
<line x1="295.5" y1="80.7" x2="297" y2="80.7" stroke="#000" stroke-width="0.6"/>
<line x1="467.6" y1="80.7" x2="466.1" y2="80.7" stroke="#000" stroke-width="0.6"/>
<line x1="295.5" y1="73.7" x2="298" y2="73.7" stroke="#000" stroke-width="0.6"/>
<line x1="467.6" y1="73.7" x2="465.1" y2="73.7" stroke="#000" stroke-width="0.6"/>
<line x1="295.5" y1="66.8" x2="297" y2="66.8" stroke="#000" stroke-width="0.6"/>
<line x1="467.6" y1="66.8" x2="466.1" y2="66.8" stroke="#000" stroke-width="0.6"/>
<line x1="295.5" y1="59.8" x2="298" y2="59.8" stroke="#000" stroke-width="0.6"/>
<line x1="467.6" y1="59.8" x2="465.1" y2="59.8" stroke="#000" stroke-width="0.6"/>
<line x1="295.5" y1="52.8" x2="297" y2="52.8" stroke="#000" stroke-width="0.6"/>
<line x1="467.6" y1="52.8" x2="466.1" y2="52.8" stroke="#000" stroke-width="0.6"/>
<line x1="295.5" y1="45.9" x2="298" y2="45.9" stroke="#000" stroke-width="0.6"/>
<line x1="467.6" y1="45.9" x2="465.1" y2="45.9" stroke="#000" stroke-width="0.6"/>
<line x1="295.5" y1="38.9" x2="297" y2="38.9" stroke="#000" stroke-width="0.6"/>
<line x1="467.6" y1="38.9" x2="466.1" y2="38.9" stroke="#000" stroke-width="0.6"/>
<line x1="295.5" y1="31.9" x2="298" y2="31.9" stroke="#000" stroke-width="0.6"/>
<line x1="467.6" y1="31.9" x2="465.1" y2="31.9" stroke="#000" stroke-width="0.6"/>
<line x1="295.5" y1="25" x2="297" y2="25" stroke="#000" stroke-width="0.6"/>
<line x1="467.6" y1="25" x2="466.1" y2="25" stroke="#000" stroke-width="0.6"/>
<line x1="295.5" y1="18" x2="298" y2="18" stroke="#000" stroke-width="0.6"/>
<line x1="467.6" y1="18" x2="465.1" y2="18" stroke="#000" stroke-width="0.6"/>
<text x="307.8" y="168.3" font-family="Liberation Sans, sans-serif" font-weight="bold" font-size="8.6" text-anchor="middle">-120</text>
<text x="332.4" y="168.3" font-family="Liberation Sans, sans-serif" font-weight="bold" font-size="8.6" text-anchor="middle">-100</text>
<text x="357" y="168.3" font-family="Liberation Sans, sans-serif" font-weight="bold" font-size="8.6" text-anchor="middle">-80</text>
<text x="381.6" y="168.3" font-family="Liberation Sans, sans-serif" font-weight="bold" font-size="8.6" text-anchor="middle">-60</text>
<text x="406.1" y="168.3" font-family="Liberation Sans, sans-serif" font-weight="bold" font-size="8.6" text-anchor="middle">-40</text>
<text x="430.7" y="168.3" font-family="Liberation Sans, sans-serif" font-weight="bold" font-size="8.6" text-anchor="middle">-20</text>
<text x="455.3" y="168.3" font-family="Liberation Sans, sans-serif" font-weight="bold" font-size="8.6" text-anchor="middle">0</text>
<text x="293.9" y="146.4" font-family="Liberation Sans, sans-serif" font-weight="bold" font-size="8.5" text-anchor="end">-40</text>
<text x="293.9" y="118.5" font-family="Liberation Sans, sans-serif" font-weight="bold" font-size="8.5" text-anchor="end">-20</text>
<text x="293.9" y="90.7" font-family="Liberation Sans, sans-serif" font-weight="bold" font-size="8.5" text-anchor="end">0</text>
<text x="293.9" y="62.8" font-family="Liberation Sans, sans-serif" font-weight="bold" font-size="8.5" text-anchor="end">20</text>
<text x="293.9" y="34.9" font-family="Liberation Sans, sans-serif" font-weight="bold" font-size="8.5" text-anchor="end">40</text>
<text x="381.6" y="177.8" font-family="Liberation Sans, sans-serif" font-weight="bold" font-size="8.7" text-anchor="middle">Longitude (°)</text>
<text x="381.6" y="13.6" font-family="Liberation Sans, sans-serif" font-weight="bold" font-size="10.85" text-anchor="middle">(b) 2024-05-10 20:00 UT</text>
<rect x="486.5" y="18" width="59.1" height="139.3" fill="#fff" stroke="#777" stroke-width="0.8"/>
<line x1="486.5" y1="157.3" x2="486.5" y2="154.8" stroke="#777" stroke-width="0.5"/>
<line x1="486.5" y1="18" x2="486.5" y2="20.5" stroke="#777" stroke-width="0.5"/>
<line x1="493.8" y1="157.3" x2="493.8" y2="156" stroke="#777" stroke-width="0.5"/>
<line x1="493.8" y1="18" x2="493.8" y2="19.3" stroke="#777" stroke-width="0.5"/>
<line x1="498" y1="157.3" x2="498" y2="156" stroke="#777" stroke-width="0.5"/>
<line x1="498" y1="18" x2="498" y2="19.3" stroke="#777" stroke-width="0.5"/>
<line x1="501.1" y1="157.3" x2="501.1" y2="156" stroke="#777" stroke-width="0.5"/>
<line x1="501.1" y1="18" x2="501.1" y2="19.3" stroke="#777" stroke-width="0.5"/>
<line x1="503.4" y1="157.3" x2="503.4" y2="156" stroke="#777" stroke-width="0.5"/>
<line x1="503.4" y1="18" x2="503.4" y2="19.3" stroke="#777" stroke-width="0.5"/>
<line x1="505.3" y1="157.3" x2="505.3" y2="156" stroke="#777" stroke-width="0.5"/>
<line x1="505.3" y1="18" x2="505.3" y2="19.3" stroke="#777" stroke-width="0.5"/>
<line x1="507" y1="157.3" x2="507" y2="156" stroke="#777" stroke-width="0.5"/>
<line x1="507" y1="18" x2="507" y2="19.3" stroke="#777" stroke-width="0.5"/>
<line x1="508.4" y1="157.3" x2="508.4" y2="156" stroke="#777" stroke-width="0.5"/>
<line x1="508.4" y1="18" x2="508.4" y2="19.3" stroke="#777" stroke-width="0.5"/>
<line x1="509.6" y1="157.3" x2="509.6" y2="156" stroke="#777" stroke-width="0.5"/>
<line x1="509.6" y1="18" x2="509.6" y2="19.3" stroke="#777" stroke-width="0.5"/>
<line x1="510.7" y1="157.3" x2="510.7" y2="154.8" stroke="#777" stroke-width="0.5"/>
<line x1="510.7" y1="18" x2="510.7" y2="20.5" stroke="#777" stroke-width="0.5"/>
<line x1="518" y1="157.3" x2="518" y2="156" stroke="#777" stroke-width="0.5"/>
<line x1="518" y1="18" x2="518" y2="19.3" stroke="#777" stroke-width="0.5"/>
<line x1="522.2" y1="157.3" x2="522.2" y2="156" stroke="#777" stroke-width="0.5"/>
<line x1="522.2" y1="18" x2="522.2" y2="19.3" stroke="#777" stroke-width="0.5"/>
<line x1="525.3" y1="157.3" x2="525.3" y2="156" stroke="#777" stroke-width="0.5"/>
<line x1="525.3" y1="18" x2="525.3" y2="19.3" stroke="#777" stroke-width="0.5"/>
<line x1="527.6" y1="157.3" x2="527.6" y2="156" stroke="#777" stroke-width="0.5"/>
<line x1="527.6" y1="18" x2="527.6" y2="19.3" stroke="#777" stroke-width="0.5"/>
<line x1="529.5" y1="157.3" x2="529.5" y2="156" stroke="#777" stroke-width="0.5"/>
<line x1="529.5" y1="18" x2="529.5" y2="19.3" stroke="#777" stroke-width="0.5"/>
<line x1="531.2" y1="157.3" x2="531.2" y2="156" stroke="#777" stroke-width="0.5"/>
<line x1="531.2" y1="18" x2="531.2" y2="19.3" stroke="#777" stroke-width="0.5"/>
<line x1="532.6" y1="157.3" x2="532.6" y2="156" stroke="#777" stroke-width="0.5"/>
<line x1="532.6" y1="18" x2="532.6" y2="19.3" stroke="#777" stroke-width="0.5"/>
<line x1="533.8" y1="157.3" x2="533.8" y2="156" stroke="#777" stroke-width="0.5"/>
<line x1="533.8" y1="18" x2="533.8" y2="19.3" stroke="#777" stroke-width="0.5"/>
<line x1="534.9" y1="157.3" x2="534.9" y2="154.8" stroke="#777" stroke-width="0.5"/>
<line x1="534.9" y1="18" x2="534.9" y2="20.5" stroke="#777" stroke-width="0.5"/>
<line x1="542.2" y1="157.3" x2="542.2" y2="156" stroke="#777" stroke-width="0.5"/>
<line x1="542.2" y1="18" x2="542.2" y2="19.3" stroke="#777" stroke-width="0.5"/>
<line x1="486.5" y1="157.3" x2="489" y2="157.3" stroke="#999" stroke-width="0.4"/>
<line x1="545.6" y1="157.3" x2="543.1" y2="157.3" stroke="#999" stroke-width="0.4"/>
<line x1="486.5" y1="150.3" x2="488" y2="150.3" stroke="#999" stroke-width="0.4"/>
<line x1="545.6" y1="150.3" x2="544.1" y2="150.3" stroke="#999" stroke-width="0.4"/>
<line x1="486.5" y1="143.4" x2="489" y2="143.4" stroke="#999" stroke-width="0.4"/>
<line x1="545.6" y1="143.4" x2="543.1" y2="143.4" stroke="#999" stroke-width="0.4"/>
<line x1="486.5" y1="136.4" x2="488" y2="136.4" stroke="#999" stroke-width="0.4"/>
<line x1="545.6" y1="136.4" x2="544.1" y2="136.4" stroke="#999" stroke-width="0.4"/>
<line x1="486.5" y1="129.4" x2="489" y2="129.4" stroke="#999" stroke-width="0.4"/>
<line x1="545.6" y1="129.4" x2="543.1" y2="129.4" stroke="#999" stroke-width="0.4"/>
<line x1="486.5" y1="122.5" x2="488" y2="122.5" stroke="#999" stroke-width="0.4"/>
<line x1="545.6" y1="122.5" x2="544.1" y2="122.5" stroke="#999" stroke-width="0.4"/>
<line x1="486.5" y1="115.5" x2="489" y2="115.5" stroke="#999" stroke-width="0.4"/>
<line x1="545.6" y1="115.5" x2="543.1" y2="115.5" stroke="#999" stroke-width="0.4"/>
<line x1="486.5" y1="108.5" x2="488" y2="108.5" stroke="#999" stroke-width="0.4"/>
<line x1="545.6" y1="108.5" x2="544.1" y2="108.5" stroke="#999" stroke-width="0.4"/>
<line x1="486.5" y1="101.6" x2="489" y2="101.6" stroke="#999" stroke-width="0.4"/>
<line x1="545.6" y1="101.6" x2="543.1" y2="101.6" stroke="#999" stroke-width="0.4"/>
<line x1="486.5" y1="94.6" x2="488" y2="94.6" stroke="#999" stroke-width="0.4"/>
<line x1="545.6" y1="94.6" x2="544.1" y2="94.6" stroke="#999" stroke-width="0.4"/>
<line x1="486.5" y1="87.7" x2="489" y2="87.7" stroke="#999" stroke-width="0.4"/>
<line x1="545.6" y1="87.7" x2="543.1" y2="87.7" stroke="#999" stroke-width="0.4"/>
<line x1="486.5" y1="80.7" x2="488" y2="80.7" stroke="#999" stroke-width="0.4"/>
<line x1="545.6" y1="80.7" x2="544.1" y2="80.7" stroke="#999" stroke-width="0.4"/>
<line x1="486.5" y1="73.7" x2="489" y2="73.7" stroke="#999" stroke-width="0.4"/>
<line x1="545.6" y1="73.7" x2="543.1" y2="73.7" stroke="#999" stroke-width="0.4"/>
<line x1="486.5" y1="66.8" x2="488" y2="66.8" stroke="#999" stroke-width="0.4"/>
<line x1="545.6" y1="66.8" x2="544.1" y2="66.8" stroke="#999" stroke-width="0.4"/>
<line x1="486.5" y1="59.8" x2="489" y2="59.8" stroke="#999" stroke-width="0.4"/>
<line x1="545.6" y1="59.8" x2="543.1" y2="59.8" stroke="#999" stroke-width="0.4"/>
<line x1="486.5" y1="52.8" x2="488" y2="52.8" stroke="#999" stroke-width="0.4"/>
<line x1="545.6" y1="52.8" x2="544.1" y2="52.8" stroke="#999" stroke-width="0.4"/>
<line x1="486.5" y1="45.9" x2="489" y2="45.9" stroke="#999" stroke-width="0.4"/>
<line x1="545.6" y1="45.9" x2="543.1" y2="45.9" stroke="#999" stroke-width="0.4"/>
<line x1="486.5" y1="38.9" x2="488" y2="38.9" stroke="#999" stroke-width="0.4"/>
<line x1="545.6" y1="38.9" x2="544.1" y2="38.9" stroke="#999" stroke-width="0.4"/>
<line x1="486.5" y1="31.9" x2="489" y2="31.9" stroke="#999" stroke-width="0.4"/>
<line x1="545.6" y1="31.9" x2="543.1" y2="31.9" stroke="#999" stroke-width="0.4"/>
<line x1="486.5" y1="25" x2="488" y2="25" stroke="#999" stroke-width="0.4"/>
<line x1="545.6" y1="25" x2="544.1" y2="25" stroke="#999" stroke-width="0.4"/>
<line x1="486.5" y1="18" x2="489" y2="18" stroke="#999" stroke-width="0.4"/>
<line x1="545.6" y1="18" x2="543.1" y2="18" stroke="#999" stroke-width="0.4"/>
<text x="484.9" y="146.4" font-family="Liberation Sans, sans-serif" font-weight="bold" font-size="8.5" text-anchor="end">-40</text>
<text x="484.9" y="118.5" font-family="Liberation Sans, sans-serif" font-weight="bold" font-size="8.5" text-anchor="end">-20</text>
<text x="484.9" y="90.7" font-family="Liberation Sans, sans-serif" font-weight="bold" font-size="8.5" text-anchor="end">0</text>
<text x="484.9" y="62.8" font-family="Liberation Sans, sans-serif" font-weight="bold" font-size="8.5" text-anchor="end">20</text>
<text x="484.9" y="34.9" font-family="Liberation Sans, sans-serif" font-weight="bold" font-size="8.5" text-anchor="end">40</text>
<text x="478.9" y="168.3" font-family="Liberation Sans, sans-serif" font-weight="bold" font-size="8.6"><tspan>10</tspan><tspan font-size="5" dy="-3.6">10</tspan></text>
<text x="503.1" y="168.3" font-family="Liberation Sans, sans-serif" font-weight="bold" font-size="8.6"><tspan>10</tspan><tspan font-size="5" dy="-3.6">11</tspan></text>
<text x="527.3" y="168.3" font-family="Liberation Sans, sans-serif" font-weight="bold" font-size="8.6"><tspan>10</tspan><tspan font-size="5" dy="-3.6">12</tspan></text>
<text x="507.1" y="177.1" font-family="Liberation Sans, sans-serif" font-weight="bold" font-size="8.6"><tspan>#/m</tspan><tspan font-size="5" dy="-3.6">3</tspan></text>
<text x="516.2" y="13.6" font-family="Liberation Sans, sans-serif" font-weight="bold" font-size="11" text-anchor="middle">DMSP Ni</text>
<defs><clipPath id="dcb"><rect x="486.5" y="18" width="59.1" height="139.3"/></clipPath></defs>
<g clip-path="url(#dcb)">
<polyline points="505,18 503.5,22 508,26 515,28.5 516.8,29.2 521.8,31.8 521.8,36.8 522.6,45.2 526,55.2 529.3,65.3 532.7,77 534.5,81.2 532.1,87.4 530.6,95.1 529,101.3 527.5,107.5 524.4,112.1 518.2,118.3 512.8,124.5 510.5,130.6 509.7,135 511.9,145 516.8,157.3" fill="none" stroke="#5a1ed2" stroke-width="1.75" stroke-linejoin="round" stroke-linecap="round" />
<polyline points="505,17.9 503.4,20.9 508.4,25 515.1,27.6 517.6,31.8 518.5,38.5 520.1,45.2 523.5,51.9 527.7,57.7 531,60.2 530.2,65.3 528.5,72 527.7,80 525.5,85 522.1,90.5 518.2,95.1 514.4,98.2 508.2,102.8 502,109 497.4,115.2 494.3,121.4 491.5,128 489.6,135 490.6,140 491.2,146.9 492.6,157.3" fill="none" stroke="#000" stroke-width="2.0" stroke-linejoin="round" stroke-linecap="round" />
</g>
<line x1="488.8" y1="67.6" x2="501.3" y2="67.6" stroke="#000" stroke-width="1.3"/>
<line x1="488.8" y1="79" x2="501.3" y2="79" stroke="#5a1ed2" stroke-width="1.3"/>
<text x="503" y="70.8" font-family="Liberation Sans, sans-serif" font-weight="bold" font-size="9">F17</text>
<text x="503" y="82.2" font-family="Liberation Sans, sans-serif" font-weight="bold" font-size="9">F18</text>
<g clip-path="url(#clipc)">
<rect x="32" y="196" width="162.5" height="139.4" fill="#fff"/>
<g filter="url(#blur)">
<polygon points="32,196 136,196 136,246 122,246 115,236 105,228 90,221 70,213 50,207 32,205" fill="url(#g10)"/>
<polygon points="32,196 42,196 46,204 32,206" fill="#38d8f0"/>
<polygon points="42,196 56,196 58,204 46,205" fill="#2898f8"/>
<polygon points="32,203 50,205 70,211 90,219 105,226 115,234 121,244 118,246 112,237 103,229 88,222 70,214 50,208 32,207" fill="#ffb020"/>
<polygon points="32,205 50,207 70,213 90,221 105,228 115,236 120,246 116,248 110,239 100,231 88,224 70,216 50,210 32,210" fill="#f03010"/>
<polygon points="32,208 50,209 70,215 88,223 100,230 110,238 118,250 118,262 108,270 100,270 85,262 75,255 65,248 55,241 45,236 32,227" fill="#8c0000"/>
<polygon points="40,228 72,236 76,256 50,244" fill="#ffffff" mask="url(#s30)"/>
<polygon points="70,238 118,246 118,270 90,270 76,250" fill="#ffffff" mask="url(#s15)"/>
<polygon points="56,250 74,254 86,264 86,270 62,268" fill="#ff9020" mask="url(#s50)"/>
<polygon points="118,222 136,220 136,246 122,246" fill="#ffffff" mask="url(#s70)"/>
<polygon points="104,256 120,256 120,268 104,268" fill="#c0e860" mask="url(#s50)"/>
<polygon points="86,262 112,258 124,262 140,270 151,276 151,280 143,302 131.7,315.8 120.4,324.8 109,329.4 100,335.4 92,335.4 90,318 88,290 86,272" fill="url(#g11)"/>
<polygon points="86,260 124,260 145,272 130,280 100,290 88,290" fill="#ffffff" mask="url(#s30)"/>
<polygon points="116,262 136,266 148,276 130,282 118,276" fill="#30b0f0" mask="url(#s50)"/>
<polygon points="86,296 96,296 96,326 86,326" fill="#c01010" mask="url(#s50)"/>
<polygon points="90,300 100,297 115,294 130,290 142,284 146,287 132,300 116,310 100,320 92,322" fill="#8c0000" mask="url(#s85)"/>
<polygon points="76,318 90,318 90,335.4 76,335.4" fill="#ff8020" mask="url(#s15)"/>
<polygon points="110,326 125,322 118,335.4 104,335.4" fill="#2070f0" mask="url(#s30)"/>
<polygon points="137,196 194.5,196 194.5,230 191,238 188.8,245 186,252 184.6,260 183,270.3 137,270.3" fill="url(#g12)"/>
<polygon points="176,204 194.5,206 194.5,216 178,214" fill="#70e060" fill-opacity="0.8"/>
<polygon points="172,218 194.5,217 194.5,228 174,228" fill="#a0e840" fill-opacity="0.7"/>
<ellipse cx="157.0" cy="214.0" rx="13.0" ry="5.0" transform="rotate(0 157.0 214.0)" fill="#1830d0" fill-opacity="0.6"/>
<polygon points="150,272 194.5,272 194.5,335 150,335" fill="#2050f0" mask="url(#s05)"/>
<polygon points="160,274 180,274 180,292 160,292" fill="#ffb020" mask="url(#s15)"/>
</g>
<line x1="43.6" y1="196" x2="43.6" y2="335.4" stroke="#444" stroke-width="0.8" stroke-dasharray="1 2.2"/>
<line x1="66.8" y1="196" x2="66.8" y2="335.4" stroke="#444" stroke-width="0.8" stroke-dasharray="1 2.2"/>
<line x1="90" y1="196" x2="90" y2="335.4" stroke="#444" stroke-width="0.8" stroke-dasharray="1 2.2"/>
<line x1="113.2" y1="196" x2="113.2" y2="335.4" stroke="#444" stroke-width="0.8" stroke-dasharray="1 2.2"/>
<line x1="136.5" y1="196" x2="136.5" y2="335.4" stroke="#444" stroke-width="0.8" stroke-dasharray="1 2.2"/>
<line x1="159.7" y1="196" x2="159.7" y2="335.4" stroke="#444" stroke-width="0.8" stroke-dasharray="1 2.2"/>
<line x1="182.9" y1="196" x2="182.9" y2="335.4" stroke="#444" stroke-width="0.8" stroke-dasharray="1 2.2"/>
<line x1="32" y1="321.5" x2="194.5" y2="321.5" stroke="#444" stroke-width="0.8" stroke-dasharray="1 2.2"/>
<line x1="32" y1="307.5" x2="194.5" y2="307.5" stroke="#444" stroke-width="0.8" stroke-dasharray="1 2.2"/>
<line x1="32" y1="293.6" x2="194.5" y2="293.6" stroke="#444" stroke-width="0.8" stroke-dasharray="1 2.2"/>
<line x1="32" y1="279.6" x2="194.5" y2="279.6" stroke="#444" stroke-width="0.8" stroke-dasharray="1 2.2"/>
<line x1="32" y1="265.7" x2="194.5" y2="265.7" stroke="#444" stroke-width="0.8" stroke-dasharray="1 2.2"/>
<line x1="32" y1="251.8" x2="194.5" y2="251.8" stroke="#444" stroke-width="0.8" stroke-dasharray="1 2.2"/>
<line x1="32" y1="237.8" x2="194.5" y2="237.8" stroke="#444" stroke-width="0.8" stroke-dasharray="1 2.2"/>
<line x1="32" y1="223.9" x2="194.5" y2="223.9" stroke="#444" stroke-width="0.8" stroke-dasharray="1 2.2"/>
<line x1="32" y1="209.9" x2="194.5" y2="209.9" stroke="#444" stroke-width="0.8" stroke-dasharray="1 2.2"/>
<polyline points="32,207 66.8,214.1 90,218 110.9,214.1 136.5,203 157.4,194.6" fill="none" stroke="#666" stroke-width="0.6" stroke-linejoin="round" stroke-linecap="round" stroke-dasharray="3.5 3" stroke-linecap="butt"/>
<polyline points="32,228.1 66.8,235 90,239.1 110.9,235 136.5,223.9 157.4,213.6 194.5,196" fill="none" stroke="#666" stroke-width="0.6" stroke-linejoin="round" stroke-linecap="round" stroke-dasharray="3.5 3" stroke-linecap="butt"/>
<polyline points="32,249 66.8,255.9 90,260 110.9,255.9 136.5,244.8 157.4,232.2 194.5,214.1" fill="none" stroke="#666" stroke-width="0.6" stroke-linejoin="round" stroke-linecap="round" stroke-dasharray="3.5 3" stroke-linecap="butt"/>
<polyline points="32,270 66.8,276.9 90,282 110.9,276.9 136.5,264.3 157.4,250.1 194.5,232.2" fill="none" stroke="#666" stroke-width="0.6" stroke-linejoin="round" stroke-linecap="round" stroke-dasharray="3.5 3" stroke-linecap="butt"/>
<polyline points="32,291.1 66.8,299.2 90,305 110.9,299.2 136.5,288 159.7,275.5 194.5,257.3" fill="none" stroke="#666" stroke-width="0.6" stroke-linejoin="round" stroke-linecap="round" stroke-dasharray="3.5 3" stroke-linecap="butt"/>
<polyline points="32,313 66.8,321.5 90,327 110.9,321.5 136.5,311.7 163.2,299.2 194.5,282.4" fill="none" stroke="#666" stroke-width="0.6" stroke-linejoin="round" stroke-linecap="round" stroke-dasharray="3.5 3" stroke-linecap="butt"/>
<polyline points="32,334 66.8,342.4 110.9,342.4 136.5,332.6 163.2,321.5 194.5,304.7" fill="none" stroke="#666" stroke-width="0.6" stroke-linejoin="round" stroke-linecap="round" stroke-dasharray="3.5 3" stroke-linecap="butt"/>
<polyline points="35.5,196 38.4,200.2 39,207.2 40.7,213.4 43,217.6 47.1,220.4 48.8,223.9 50.6,227.4 52.9,230.8 55.2,233.6 54.1,230.8 52.3,226.7 50,222.1 52.3,223.9 54.1,226.7 56.4,230.2 59.9,234.3 60.7,237.8 64.5,240.6 69.1,243.4 73.8,243.4 76.1,245.5 80.8,247.3 83.1,249 83.7,251.1 85.4,252.5 87.7,254.1 90,255.2 91.2,253.2 92.9,255.2 92.4,260.1 93.5,261.5 90,265.7 88.9,269.9 88.9,274.1 91.2,276.9 94.7,285.2 100.5,290.8 101.3,297.8 99.9,307.5 98.7,317.3 97.6,324.2 97,329.8 95.3,335.4" fill="none" stroke="#222" stroke-width="0.6" stroke-linejoin="round" stroke-linecap="round" />
<polyline points="106.3,203 101.6,205.1 101.6,207.2 97,209.2 95.3,212.7 94.7,216.9 92.4,218.7 88.9,221.8 89.5,226.7 90,230.2 88.9,230.6 87.1,227.4 86.6,224.6 84.2,224.3 79.6,223.6 78.4,225.3 73.8,224.6 70.3,227.4 69.7,230.8 69.7,235 71.5,239.2 73.2,240.3 77.3,239.9 77.8,236.4 81.9,235.7 81.3,239.9 80.2,243.4 85.4,243.7 86,249 86,250.4 87.7,252.9 90.6,252.5 93.5,253.9 94.7,252.5 95.8,250.4 99.3,249 99.9,251.1 101.6,249 105.1,251.1 109.8,251.1 112.1,253.2 114.4,255.2 116.7,257.3 120.2,257.8 123.1,259.7 124.9,263.6 127.2,267.1 131.8,269.2 136.5,269.9 139.9,272.7 142.3,275.5 142.3,278.2 139.9,282.4 137.6,286.6 137,290.8 135.3,296.4 133,297.8 129.5,299.2 126.6,303.3 124.3,308.9 121.4,313.1 119.1,314.5 115.6,313.8 116.2,316.6 116.2,318.7 110.9,320.1 110.6,322.2 107.4,322.9 108.6,325.6 106.9,328.4 104.5,330.5 103.4,335.4" fill="none" stroke="#222" stroke-width="0.6" stroke-linejoin="round" stroke-linecap="round" />
<polyline points="84.2,235.3 87.7,233.6 92.4,234.3 96.8,237.5 92.9,238 90,235.5 86.6,235 84.2,235.3" fill="none" stroke="#222" stroke-width="0.6" stroke-linejoin="round" stroke-linecap="round" />
<polyline points="96.4,239.9 99.3,238.1 103.4,239.6 99.9,241 96.4,239.9" fill="none" stroke="#222" stroke-width="0.6" stroke-linejoin="round" stroke-linecap="round" />
<polyline points="76.1,200.6 80.8,198.8 84.8,200.9 81.9,204.4 81.3,207.6 83.1,205.1 84.8,201.9 87.1,205.8 91.2,205.3 94.7,204.4 90.3,206.5 86,207.6 87.1,202.6 90,203 89.5,200.9 84.8,200.9" fill="none" stroke="#222" stroke-width="0.6" stroke-linejoin="round" stroke-linecap="round" />
<polyline points="94.7,204.4 100.5,200.5 106.3,197.1 108,197.8 106.3,199.5 107.7,201.6 106.3,203" fill="none" stroke="#222" stroke-width="0.6" stroke-linejoin="round" stroke-linecap="round" />
<polyline points="106.3,203.7 108.6,202.3 112.1,202.3 113.2,201.3 109.8,203.7 106.3,204.6" fill="none" stroke="#222" stroke-width="0.6" stroke-linejoin="round" stroke-linecap="round" />
<polyline points="114.1,199.3 117.9,193.8 121.4,197.4 121.7,199.5 118.5,200.2 114.1,199.3" fill="none" stroke="#222" stroke-width="0.6" stroke-linejoin="round" stroke-linecap="round" />
<polyline points="172.4,205.8 171.9,211.3 172.7,214.1 175.9,215.1 176.5,215.5 180.6,214.4 182.9,211.8 186.4,207.2 186.7,205.3 189.9,205.8 194.5,204.4" fill="none" stroke="#222" stroke-width="0.6" stroke-linejoin="round" stroke-linecap="round" />
<polyline points="181.2,205.1 181.5,201.6 180,199.8 177.4,198.8 181,197.8 181.2,196.4 185.2,196" fill="none" stroke="#222" stroke-width="0.6" stroke-linejoin="round" stroke-linecap="round" />
<polyline points="194.5,214.1 192.8,214.3 188.7,214.4 182.9,215.8 180.6,216.8 176,215.8 175,218.3 171.9,220.4 171.5,224.6 167.8,227.2 166.1,229.5 164.3,232.2 163.2,236.4 163.7,238.5 164.1,242 162.8,245.2 163.5,248.3 165.5,250.4 167.2,252.5 169,255.2 171.3,257.3 174.2,259.6 178.2,258.5 181.7,258.7 184.1,257.3 188.1,256.9 189.9,259.7 192.8,259.4 194.2,260.8 194,263.6 193.7,267.1 194.5,269.2 196.6,272" fill="none" stroke="#222" stroke-width="0.6" stroke-linejoin="round" stroke-linecap="round" />
<polyline points="65.5,196 97.9,335.4" fill="none" stroke="#5a1ed2" stroke-width="1.5" stroke-linejoin="round" stroke-linecap="round" />
<polyline points="106.6,196 136.8,335.4" fill="none" stroke="#000" stroke-width="1.5" stroke-linejoin="round" stroke-linecap="round" />
<text x="156.8" y="216.6" transform="rotate(0 156.8 213.6)" font-family="Liberation Sans, sans-serif" font-weight="bold" font-size="8.6" text-anchor="middle" fill="#000">30°</text>
<text x="156.4" y="253.1" transform="rotate(0 156.4 250.1)" font-family="Liberation Sans, sans-serif" font-weight="bold" font-size="8.6" text-anchor="middle" fill="#000">0°</text>
<text x="163.2" y="302.2" transform="rotate(-28 163.2 299.2)" font-family="Liberation Sans, sans-serif" font-weight="bold" font-size="8.6" text-anchor="middle" fill="#000">-30°</text>
</g>
<rect x="32" y="196" width="162.5" height="139.4" fill="none" stroke="#666" stroke-width="0.9"/>
<line x1="31.6" y1="335.4" x2="194.9" y2="335.4" stroke="#111" stroke-width="1.1"/>
<line x1="32" y1="335.4" x2="32" y2="333.9" stroke="#000" stroke-width="0.6"/>
<line x1="32" y1="196" x2="32" y2="197.5" stroke="#000" stroke-width="0.6"/>
<line x1="37.8" y1="335.4" x2="37.8" y2="333.9" stroke="#000" stroke-width="0.6"/>
<line x1="37.8" y1="196" x2="37.8" y2="197.5" stroke="#000" stroke-width="0.6"/>
<line x1="43.6" y1="335.4" x2="43.6" y2="332.9" stroke="#000" stroke-width="0.6"/>
<line x1="43.6" y1="196" x2="43.6" y2="198.5" stroke="#000" stroke-width="0.6"/>
<line x1="49.4" y1="335.4" x2="49.4" y2="333.9" stroke="#000" stroke-width="0.6"/>
<line x1="49.4" y1="196" x2="49.4" y2="197.5" stroke="#000" stroke-width="0.6"/>
<line x1="55.2" y1="335.4" x2="55.2" y2="333.9" stroke="#000" stroke-width="0.6"/>
<line x1="55.2" y1="196" x2="55.2" y2="197.5" stroke="#000" stroke-width="0.6"/>
<line x1="61" y1="335.4" x2="61" y2="333.9" stroke="#000" stroke-width="0.6"/>
<line x1="61" y1="196" x2="61" y2="197.5" stroke="#000" stroke-width="0.6"/>
<line x1="66.8" y1="335.4" x2="66.8" y2="332.9" stroke="#000" stroke-width="0.6"/>
<line x1="66.8" y1="196" x2="66.8" y2="198.5" stroke="#000" stroke-width="0.6"/>
<line x1="72.6" y1="335.4" x2="72.6" y2="333.9" stroke="#000" stroke-width="0.6"/>
<line x1="72.6" y1="196" x2="72.6" y2="197.5" stroke="#000" stroke-width="0.6"/>
<line x1="78.4" y1="335.4" x2="78.4" y2="333.9" stroke="#000" stroke-width="0.6"/>
<line x1="78.4" y1="196" x2="78.4" y2="197.5" stroke="#000" stroke-width="0.6"/>
<line x1="84.2" y1="335.4" x2="84.2" y2="333.9" stroke="#000" stroke-width="0.6"/>
<line x1="84.2" y1="196" x2="84.2" y2="197.5" stroke="#000" stroke-width="0.6"/>
<line x1="90" y1="335.4" x2="90" y2="332.9" stroke="#000" stroke-width="0.6"/>
<line x1="90" y1="196" x2="90" y2="198.5" stroke="#000" stroke-width="0.6"/>
<line x1="95.8" y1="335.4" x2="95.8" y2="333.9" stroke="#000" stroke-width="0.6"/>
<line x1="95.8" y1="196" x2="95.8" y2="197.5" stroke="#000" stroke-width="0.6"/>
<line x1="101.6" y1="335.4" x2="101.6" y2="333.9" stroke="#000" stroke-width="0.6"/>
<line x1="101.6" y1="196" x2="101.6" y2="197.5" stroke="#000" stroke-width="0.6"/>
<line x1="107.4" y1="335.4" x2="107.4" y2="333.9" stroke="#000" stroke-width="0.6"/>
<line x1="107.4" y1="196" x2="107.4" y2="197.5" stroke="#000" stroke-width="0.6"/>
<line x1="113.2" y1="335.4" x2="113.2" y2="332.9" stroke="#000" stroke-width="0.6"/>
<line x1="113.2" y1="196" x2="113.2" y2="198.5" stroke="#000" stroke-width="0.6"/>
<line x1="119.1" y1="335.4" x2="119.1" y2="333.9" stroke="#000" stroke-width="0.6"/>
<line x1="119.1" y1="196" x2="119.1" y2="197.5" stroke="#000" stroke-width="0.6"/>
<line x1="124.9" y1="335.4" x2="124.9" y2="333.9" stroke="#000" stroke-width="0.6"/>
<line x1="124.9" y1="196" x2="124.9" y2="197.5" stroke="#000" stroke-width="0.6"/>
<line x1="130.7" y1="335.4" x2="130.7" y2="333.9" stroke="#000" stroke-width="0.6"/>
<line x1="130.7" y1="196" x2="130.7" y2="197.5" stroke="#000" stroke-width="0.6"/>
<line x1="136.5" y1="335.4" x2="136.5" y2="332.9" stroke="#000" stroke-width="0.6"/>
<line x1="136.5" y1="196" x2="136.5" y2="198.5" stroke="#000" stroke-width="0.6"/>
<line x1="142.3" y1="335.4" x2="142.3" y2="333.9" stroke="#000" stroke-width="0.6"/>
<line x1="142.3" y1="196" x2="142.3" y2="197.5" stroke="#000" stroke-width="0.6"/>
<line x1="148.1" y1="335.4" x2="148.1" y2="333.9" stroke="#000" stroke-width="0.6"/>
<line x1="148.1" y1="196" x2="148.1" y2="197.5" stroke="#000" stroke-width="0.6"/>
<line x1="153.9" y1="335.4" x2="153.9" y2="333.9" stroke="#000" stroke-width="0.6"/>
<line x1="153.9" y1="196" x2="153.9" y2="197.5" stroke="#000" stroke-width="0.6"/>
<line x1="159.7" y1="335.4" x2="159.7" y2="332.9" stroke="#000" stroke-width="0.6"/>
<line x1="159.7" y1="196" x2="159.7" y2="198.5" stroke="#000" stroke-width="0.6"/>
<line x1="165.5" y1="335.4" x2="165.5" y2="333.9" stroke="#000" stroke-width="0.6"/>
<line x1="165.5" y1="196" x2="165.5" y2="197.5" stroke="#000" stroke-width="0.6"/>
<line x1="171.3" y1="335.4" x2="171.3" y2="333.9" stroke="#000" stroke-width="0.6"/>
<line x1="171.3" y1="196" x2="171.3" y2="197.5" stroke="#000" stroke-width="0.6"/>
<line x1="177.1" y1="335.4" x2="177.1" y2="333.9" stroke="#000" stroke-width="0.6"/>
<line x1="177.1" y1="196" x2="177.1" y2="197.5" stroke="#000" stroke-width="0.6"/>
<line x1="182.9" y1="335.4" x2="182.9" y2="332.9" stroke="#000" stroke-width="0.6"/>
<line x1="182.9" y1="196" x2="182.9" y2="198.5" stroke="#000" stroke-width="0.6"/>
<line x1="188.7" y1="335.4" x2="188.7" y2="333.9" stroke="#000" stroke-width="0.6"/>
<line x1="188.7" y1="196" x2="188.7" y2="197.5" stroke="#000" stroke-width="0.6"/>
<line x1="194.5" y1="335.4" x2="194.5" y2="333.9" stroke="#000" stroke-width="0.6"/>
<line x1="194.5" y1="196" x2="194.5" y2="197.5" stroke="#000" stroke-width="0.6"/>
<line x1="32" y1="335.4" x2="34.5" y2="335.4" stroke="#000" stroke-width="0.6"/>
<line x1="194.5" y1="335.4" x2="192" y2="335.4" stroke="#000" stroke-width="0.6"/>
<line x1="32" y1="328.4" x2="33.5" y2="328.4" stroke="#000" stroke-width="0.6"/>
<line x1="194.5" y1="328.4" x2="193" y2="328.4" stroke="#000" stroke-width="0.6"/>
<line x1="32" y1="321.5" x2="34.5" y2="321.5" stroke="#000" stroke-width="0.6"/>
<line x1="194.5" y1="321.5" x2="192" y2="321.5" stroke="#000" stroke-width="0.6"/>
<line x1="32" y1="314.5" x2="33.5" y2="314.5" stroke="#000" stroke-width="0.6"/>
<line x1="194.5" y1="314.5" x2="193" y2="314.5" stroke="#000" stroke-width="0.6"/>
<line x1="32" y1="307.5" x2="34.5" y2="307.5" stroke="#000" stroke-width="0.6"/>
<line x1="194.5" y1="307.5" x2="192" y2="307.5" stroke="#000" stroke-width="0.6"/>
<line x1="32" y1="300.5" x2="33.5" y2="300.5" stroke="#000" stroke-width="0.6"/>
<line x1="194.5" y1="300.5" x2="193" y2="300.5" stroke="#000" stroke-width="0.6"/>
<line x1="32" y1="293.6" x2="34.5" y2="293.6" stroke="#000" stroke-width="0.6"/>
<line x1="194.5" y1="293.6" x2="192" y2="293.6" stroke="#000" stroke-width="0.6"/>
<line x1="32" y1="286.6" x2="33.5" y2="286.6" stroke="#000" stroke-width="0.6"/>
<line x1="194.5" y1="286.6" x2="193" y2="286.6" stroke="#000" stroke-width="0.6"/>
<line x1="32" y1="279.6" x2="34.5" y2="279.6" stroke="#000" stroke-width="0.6"/>
<line x1="194.5" y1="279.6" x2="192" y2="279.6" stroke="#000" stroke-width="0.6"/>
<line x1="32" y1="272.7" x2="33.5" y2="272.7" stroke="#000" stroke-width="0.6"/>
<line x1="194.5" y1="272.7" x2="193" y2="272.7" stroke="#000" stroke-width="0.6"/>
<line x1="32" y1="265.7" x2="34.5" y2="265.7" stroke="#000" stroke-width="0.6"/>
<line x1="194.5" y1="265.7" x2="192" y2="265.7" stroke="#000" stroke-width="0.6"/>
<line x1="32" y1="258.7" x2="33.5" y2="258.7" stroke="#000" stroke-width="0.6"/>
<line x1="194.5" y1="258.7" x2="193" y2="258.7" stroke="#000" stroke-width="0.6"/>
<line x1="32" y1="251.8" x2="34.5" y2="251.8" stroke="#000" stroke-width="0.6"/>
<line x1="194.5" y1="251.8" x2="192" y2="251.8" stroke="#000" stroke-width="0.6"/>
<line x1="32" y1="244.8" x2="33.5" y2="244.8" stroke="#000" stroke-width="0.6"/>
<line x1="194.5" y1="244.8" x2="193" y2="244.8" stroke="#000" stroke-width="0.6"/>
<line x1="32" y1="237.8" x2="34.5" y2="237.8" stroke="#000" stroke-width="0.6"/>
<line x1="194.5" y1="237.8" x2="192" y2="237.8" stroke="#000" stroke-width="0.6"/>
<line x1="32" y1="230.8" x2="33.5" y2="230.8" stroke="#000" stroke-width="0.6"/>
<line x1="194.5" y1="230.8" x2="193" y2="230.8" stroke="#000" stroke-width="0.6"/>
<line x1="32" y1="223.9" x2="34.5" y2="223.9" stroke="#000" stroke-width="0.6"/>
<line x1="194.5" y1="223.9" x2="192" y2="223.9" stroke="#000" stroke-width="0.6"/>
<line x1="32" y1="216.9" x2="33.5" y2="216.9" stroke="#000" stroke-width="0.6"/>
<line x1="194.5" y1="216.9" x2="193" y2="216.9" stroke="#000" stroke-width="0.6"/>
<line x1="32" y1="209.9" x2="34.5" y2="209.9" stroke="#000" stroke-width="0.6"/>
<line x1="194.5" y1="209.9" x2="192" y2="209.9" stroke="#000" stroke-width="0.6"/>
<line x1="32" y1="203" x2="33.5" y2="203" stroke="#000" stroke-width="0.6"/>
<line x1="194.5" y1="203" x2="193" y2="203" stroke="#000" stroke-width="0.6"/>
<line x1="32" y1="196" x2="34.5" y2="196" stroke="#000" stroke-width="0.6"/>
<line x1="194.5" y1="196" x2="192" y2="196" stroke="#000" stroke-width="0.6"/>
<text x="43.6" y="346.4" font-family="Liberation Sans, sans-serif" font-weight="bold" font-size="8.6" text-anchor="middle">-120</text>
<text x="66.8" y="346.4" font-family="Liberation Sans, sans-serif" font-weight="bold" font-size="8.6" text-anchor="middle">-100</text>
<text x="90" y="346.4" font-family="Liberation Sans, sans-serif" font-weight="bold" font-size="8.6" text-anchor="middle">-80</text>
<text x="113.2" y="346.4" font-family="Liberation Sans, sans-serif" font-weight="bold" font-size="8.6" text-anchor="middle">-60</text>
<text x="136.5" y="346.4" font-family="Liberation Sans, sans-serif" font-weight="bold" font-size="8.6" text-anchor="middle">-40</text>
<text x="159.7" y="346.4" font-family="Liberation Sans, sans-serif" font-weight="bold" font-size="8.6" text-anchor="middle">-20</text>
<text x="182.9" y="346.4" font-family="Liberation Sans, sans-serif" font-weight="bold" font-size="8.6" text-anchor="middle">0</text>
<text x="30.4" y="324.5" font-family="Liberation Sans, sans-serif" font-weight="bold" font-size="8.5" text-anchor="end">-40</text>
<text x="30.4" y="296.6" font-family="Liberation Sans, sans-serif" font-weight="bold" font-size="8.5" text-anchor="end">-20</text>
<text x="30.4" y="268.7" font-family="Liberation Sans, sans-serif" font-weight="bold" font-size="8.5" text-anchor="end">0</text>
<text x="30.4" y="240.8" font-family="Liberation Sans, sans-serif" font-weight="bold" font-size="8.5" text-anchor="end">20</text>
<text x="30.4" y="212.9" font-family="Liberation Sans, sans-serif" font-weight="bold" font-size="8.5" text-anchor="end">40</text>
<text x="113.2" y="355.9" font-family="Liberation Sans, sans-serif" font-weight="bold" font-size="8.7" text-anchor="middle">Longitude (°)</text>
<text transform="translate(10.2,265.7) rotate(-90)" font-family="Liberation Sans, sans-serif" font-weight="bold" font-size="8.7" text-anchor="middle">Latitude (°)</text>
<text x="113.2" y="191.6" font-family="Liberation Sans, sans-serif" font-weight="bold" font-size="10.85" text-anchor="middle">(c) 2024-05-10 21:45 UT</text>
<rect x="212.5" y="196" width="59.9" height="139.4" fill="#fff" stroke="#777" stroke-width="0.8"/>
<line x1="212.5" y1="335.4" x2="212.5" y2="332.9" stroke="#777" stroke-width="0.5"/>
<line x1="212.5" y1="196" x2="212.5" y2="198.5" stroke="#777" stroke-width="0.5"/>
<line x1="219.8" y1="335.4" x2="219.8" y2="334.1" stroke="#777" stroke-width="0.5"/>
<line x1="219.8" y1="196" x2="219.8" y2="197.3" stroke="#777" stroke-width="0.5"/>
<line x1="224" y1="335.4" x2="224" y2="334.1" stroke="#777" stroke-width="0.5"/>
<line x1="224" y1="196" x2="224" y2="197.3" stroke="#777" stroke-width="0.5"/>
<line x1="227.1" y1="335.4" x2="227.1" y2="334.1" stroke="#777" stroke-width="0.5"/>
<line x1="227.1" y1="196" x2="227.1" y2="197.3" stroke="#777" stroke-width="0.5"/>
<line x1="229.4" y1="335.4" x2="229.4" y2="334.1" stroke="#777" stroke-width="0.5"/>
<line x1="229.4" y1="196" x2="229.4" y2="197.3" stroke="#777" stroke-width="0.5"/>
<line x1="231.3" y1="335.4" x2="231.3" y2="334.1" stroke="#777" stroke-width="0.5"/>
<line x1="231.3" y1="196" x2="231.3" y2="197.3" stroke="#777" stroke-width="0.5"/>
<line x1="233" y1="335.4" x2="233" y2="334.1" stroke="#777" stroke-width="0.5"/>
<line x1="233" y1="196" x2="233" y2="197.3" stroke="#777" stroke-width="0.5"/>
<line x1="234.4" y1="335.4" x2="234.4" y2="334.1" stroke="#777" stroke-width="0.5"/>
<line x1="234.4" y1="196" x2="234.4" y2="197.3" stroke="#777" stroke-width="0.5"/>
<line x1="235.6" y1="335.4" x2="235.6" y2="334.1" stroke="#777" stroke-width="0.5"/>
<line x1="235.6" y1="196" x2="235.6" y2="197.3" stroke="#777" stroke-width="0.5"/>
<line x1="236.7" y1="335.4" x2="236.7" y2="332.9" stroke="#777" stroke-width="0.5"/>
<line x1="236.7" y1="196" x2="236.7" y2="198.5" stroke="#777" stroke-width="0.5"/>
<line x1="244" y1="335.4" x2="244" y2="334.1" stroke="#777" stroke-width="0.5"/>
<line x1="244" y1="196" x2="244" y2="197.3" stroke="#777" stroke-width="0.5"/>
<line x1="248.2" y1="335.4" x2="248.2" y2="334.1" stroke="#777" stroke-width="0.5"/>
<line x1="248.2" y1="196" x2="248.2" y2="197.3" stroke="#777" stroke-width="0.5"/>
<line x1="251.3" y1="335.4" x2="251.3" y2="334.1" stroke="#777" stroke-width="0.5"/>
<line x1="251.3" y1="196" x2="251.3" y2="197.3" stroke="#777" stroke-width="0.5"/>
<line x1="253.6" y1="335.4" x2="253.6" y2="334.1" stroke="#777" stroke-width="0.5"/>
<line x1="253.6" y1="196" x2="253.6" y2="197.3" stroke="#777" stroke-width="0.5"/>
<line x1="255.5" y1="335.4" x2="255.5" y2="334.1" stroke="#777" stroke-width="0.5"/>
<line x1="255.5" y1="196" x2="255.5" y2="197.3" stroke="#777" stroke-width="0.5"/>
<line x1="257.2" y1="335.4" x2="257.2" y2="334.1" stroke="#777" stroke-width="0.5"/>
<line x1="257.2" y1="196" x2="257.2" y2="197.3" stroke="#777" stroke-width="0.5"/>
<line x1="258.6" y1="335.4" x2="258.6" y2="334.1" stroke="#777" stroke-width="0.5"/>
<line x1="258.6" y1="196" x2="258.6" y2="197.3" stroke="#777" stroke-width="0.5"/>
<line x1="259.8" y1="335.4" x2="259.8" y2="334.1" stroke="#777" stroke-width="0.5"/>
<line x1="259.8" y1="196" x2="259.8" y2="197.3" stroke="#777" stroke-width="0.5"/>
<line x1="260.9" y1="335.4" x2="260.9" y2="332.9" stroke="#777" stroke-width="0.5"/>
<line x1="260.9" y1="196" x2="260.9" y2="198.5" stroke="#777" stroke-width="0.5"/>
<line x1="268.2" y1="335.4" x2="268.2" y2="334.1" stroke="#777" stroke-width="0.5"/>
<line x1="268.2" y1="196" x2="268.2" y2="197.3" stroke="#777" stroke-width="0.5"/>
<line x1="212.5" y1="335.4" x2="215" y2="335.4" stroke="#999" stroke-width="0.4"/>
<line x1="272.4" y1="335.4" x2="269.9" y2="335.4" stroke="#999" stroke-width="0.4"/>
<line x1="212.5" y1="328.4" x2="214" y2="328.4" stroke="#999" stroke-width="0.4"/>
<line x1="272.4" y1="328.4" x2="270.9" y2="328.4" stroke="#999" stroke-width="0.4"/>
<line x1="212.5" y1="321.5" x2="215" y2="321.5" stroke="#999" stroke-width="0.4"/>
<line x1="272.4" y1="321.5" x2="269.9" y2="321.5" stroke="#999" stroke-width="0.4"/>
<line x1="212.5" y1="314.5" x2="214" y2="314.5" stroke="#999" stroke-width="0.4"/>
<line x1="272.4" y1="314.5" x2="270.9" y2="314.5" stroke="#999" stroke-width="0.4"/>
<line x1="212.5" y1="307.5" x2="215" y2="307.5" stroke="#999" stroke-width="0.4"/>
<line x1="272.4" y1="307.5" x2="269.9" y2="307.5" stroke="#999" stroke-width="0.4"/>
<line x1="212.5" y1="300.5" x2="214" y2="300.5" stroke="#999" stroke-width="0.4"/>
<line x1="272.4" y1="300.5" x2="270.9" y2="300.5" stroke="#999" stroke-width="0.4"/>
<line x1="212.5" y1="293.6" x2="215" y2="293.6" stroke="#999" stroke-width="0.4"/>
<line x1="272.4" y1="293.6" x2="269.9" y2="293.6" stroke="#999" stroke-width="0.4"/>
<line x1="212.5" y1="286.6" x2="214" y2="286.6" stroke="#999" stroke-width="0.4"/>
<line x1="272.4" y1="286.6" x2="270.9" y2="286.6" stroke="#999" stroke-width="0.4"/>
<line x1="212.5" y1="279.6" x2="215" y2="279.6" stroke="#999" stroke-width="0.4"/>
<line x1="272.4" y1="279.6" x2="269.9" y2="279.6" stroke="#999" stroke-width="0.4"/>
<line x1="212.5" y1="272.7" x2="214" y2="272.7" stroke="#999" stroke-width="0.4"/>
<line x1="272.4" y1="272.7" x2="270.9" y2="272.7" stroke="#999" stroke-width="0.4"/>
<line x1="212.5" y1="265.7" x2="215" y2="265.7" stroke="#999" stroke-width="0.4"/>
<line x1="272.4" y1="265.7" x2="269.9" y2="265.7" stroke="#999" stroke-width="0.4"/>
<line x1="212.5" y1="258.7" x2="214" y2="258.7" stroke="#999" stroke-width="0.4"/>
<line x1="272.4" y1="258.7" x2="270.9" y2="258.7" stroke="#999" stroke-width="0.4"/>
<line x1="212.5" y1="251.8" x2="215" y2="251.8" stroke="#999" stroke-width="0.4"/>
<line x1="272.4" y1="251.8" x2="269.9" y2="251.8" stroke="#999" stroke-width="0.4"/>
<line x1="212.5" y1="244.8" x2="214" y2="244.8" stroke="#999" stroke-width="0.4"/>
<line x1="272.4" y1="244.8" x2="270.9" y2="244.8" stroke="#999" stroke-width="0.4"/>
<line x1="212.5" y1="237.8" x2="215" y2="237.8" stroke="#999" stroke-width="0.4"/>
<line x1="272.4" y1="237.8" x2="269.9" y2="237.8" stroke="#999" stroke-width="0.4"/>
<line x1="212.5" y1="230.8" x2="214" y2="230.8" stroke="#999" stroke-width="0.4"/>
<line x1="272.4" y1="230.8" x2="270.9" y2="230.8" stroke="#999" stroke-width="0.4"/>
<line x1="212.5" y1="223.9" x2="215" y2="223.9" stroke="#999" stroke-width="0.4"/>
<line x1="272.4" y1="223.9" x2="269.9" y2="223.9" stroke="#999" stroke-width="0.4"/>
<line x1="212.5" y1="216.9" x2="214" y2="216.9" stroke="#999" stroke-width="0.4"/>
<line x1="272.4" y1="216.9" x2="270.9" y2="216.9" stroke="#999" stroke-width="0.4"/>
<line x1="212.5" y1="209.9" x2="215" y2="209.9" stroke="#999" stroke-width="0.4"/>
<line x1="272.4" y1="209.9" x2="269.9" y2="209.9" stroke="#999" stroke-width="0.4"/>
<line x1="212.5" y1="203" x2="214" y2="203" stroke="#999" stroke-width="0.4"/>
<line x1="272.4" y1="203" x2="270.9" y2="203" stroke="#999" stroke-width="0.4"/>
<line x1="212.5" y1="196" x2="215" y2="196" stroke="#999" stroke-width="0.4"/>
<line x1="272.4" y1="196" x2="269.9" y2="196" stroke="#999" stroke-width="0.4"/>
<text x="210.9" y="324.5" font-family="Liberation Sans, sans-serif" font-weight="bold" font-size="8.5" text-anchor="end">-40</text>
<text x="210.9" y="296.6" font-family="Liberation Sans, sans-serif" font-weight="bold" font-size="8.5" text-anchor="end">-20</text>
<text x="210.9" y="268.7" font-family="Liberation Sans, sans-serif" font-weight="bold" font-size="8.5" text-anchor="end">0</text>
<text x="210.9" y="240.8" font-family="Liberation Sans, sans-serif" font-weight="bold" font-size="8.5" text-anchor="end">20</text>
<text x="210.9" y="212.9" font-family="Liberation Sans, sans-serif" font-weight="bold" font-size="8.5" text-anchor="end">40</text>
<text x="204.9" y="346.4" font-family="Liberation Sans, sans-serif" font-weight="bold" font-size="8.6"><tspan>10</tspan><tspan font-size="5" dy="-3.6">10</tspan></text>
<text x="229.1" y="346.4" font-family="Liberation Sans, sans-serif" font-weight="bold" font-size="8.6"><tspan>10</tspan><tspan font-size="5" dy="-3.6">11</tspan></text>
<text x="253.3" y="346.4" font-family="Liberation Sans, sans-serif" font-weight="bold" font-size="8.6"><tspan>10</tspan><tspan font-size="5" dy="-3.6">12</tspan></text>
<text x="233.1" y="355.2" font-family="Liberation Sans, sans-serif" font-weight="bold" font-size="8.6"><tspan>#/m</tspan><tspan font-size="5" dy="-3.6">3</tspan></text>
<text x="242.6" y="191.6" font-family="Liberation Sans, sans-serif" font-weight="bold" font-size="11" text-anchor="middle">DMSP Ni</text>
<defs><clipPath id="dcc"><rect x="212.5" y="196" width="59.9" height="139.4"/></clipPath></defs>
<g clip-path="url(#dcc)">
<polyline points="228,196 231,200 230.1,204.6 239.8,207.5 240.8,210.4 259.2,212.3 257.2,218.1 258.2,231.7 260.1,243.3 262,254.9 261.1,260.7 254.3,267.5 251.4,274.6 252.4,284.3 255.3,292 261.1,297.8 256.3,304.6 250.5,311.4 247.6,321 248.5,335.4" fill="none" stroke="#5a1ed2" stroke-width="1.75" stroke-linejoin="round" stroke-linecap="round" />
<polyline points="228.2,196 232.1,198.8 230.1,202.7 231.1,210.4 236,215.2 245.6,219.1 251.4,224.9 258.2,233.6 264,239.4 261.1,247.2 254.3,254.9 250.5,264.6 248.5,270.7 251.4,280.4 255.3,288.1 252.4,295.9 245.6,303.6 236,311.4 226.3,319.1 224.3,323 224.3,329.7 223.4,335.4" fill="none" stroke="#000" stroke-width="2.0" stroke-linejoin="round" stroke-linecap="round" />
</g>
<line x1="214.8" y1="245.2" x2="227.3" y2="245.2" stroke="#000" stroke-width="1.3"/>
<line x1="214.8" y1="256.6" x2="227.3" y2="256.6" stroke="#5a1ed2" stroke-width="1.3"/>
<text x="229" y="248.4" font-family="Liberation Sans, sans-serif" font-weight="bold" font-size="9">F17</text>
<text x="229" y="259.8" font-family="Liberation Sans, sans-serif" font-weight="bold" font-size="9">F18</text>
<g clip-path="url(#clipd)">
<rect x="295.5" y="196" width="172.1" height="139.4" fill="#fff"/>
<g filter="url(#blur)">
<polygon points="295.5,196 382,196 382,214 370,216 355,215 340,212 320,208 305,205 295.5,203" fill="url(#g13)"/>
<polygon points="295.5,196 306,196 310,206 295.5,206" fill="url(#g14)"/>
<polygon points="295.5,209 305,211 320,214 340,218 355,221 370,222 382,220 382,240 376,250 372,264 360,260 345,255 325,252 312,245 302,232 295.5,226" fill="#8c0000"/>
<polygon points="295.5,203 305,205 320,208 340,212 355,215 370,216 382,214 382,216.2 370,218.2 355,217.2 340,214.2 320,210.2 305,207.2 295.5,205.2" fill="#60e8b0"/>
<polygon points="295.5,205 305,207 320,210 340,214 355,217 370,218 382,216 382,218.2 370,220.2 355,219.2 340,216.2 320,212.2 305,209.2 295.5,207.2" fill="#f0e020"/>
<polygon points="295.5,207 305,209 320,212 340,216 355,219 370,220 382,218 382,220.2 370,222.2 355,221.2 340,218.2 320,214.2 305,211.2 295.5,209.2" fill="#ff9018"/>
<polygon points="295.5,209 305,211 320,214 340,218 355,221 370,222 382,220 382,224 370,226 355,225 340,222 320,218 305,215 295.5,213" fill="#f02810"/>
<polygon points="300,230 376,232 376,264 340,258 310,248" fill="#ffffff" mask="url(#s30)"/>
<polygon points="298,226 318,236 326,250 304,244" fill="#e02010" mask="url(#s15)"/>
<polygon points="318,248 358,256 356,268 322,268" fill="#ffa020" mask="url(#s30)"/>
<polygon points="374,214 383,213 383,245 376,245" fill="#30c0f0" mask="url(#s50)"/>
<polygon points="366,246 383,244 383,268 368,268" fill="#2060f0" mask="url(#s70)"/>
<polygon points="320,252 366,258 362,290 345,290 335,270" fill="#c0e850" mask="url(#s30)"/>
<polygon points="360,242 382,240 382,300 366,300" fill="#2080f0" mask="url(#s70)"/>
<polygon points="370,250 382,248 382,290 372,290" fill="#2040e0" mask="url(#s70)"/>
<polygon points="352,280 382,280 382,298 356,298" fill="#60e0c0" mask="url(#s50)"/>
<polygon points="354,294 382,294 382,304 354,304" fill="#ffa020" mask="url(#s70)"/>
<polygon points="355,300 382,300 382,330 360,330 352,318" fill="#8c0000" mask="url(#s85)"/>
<polygon points="356,328 382,328 382,335.4 356,335.4" fill="#ffa020" mask="url(#s50)"/>
<polygon points="348,304 358,300 358,330 352,330" fill="#f04010" mask="url(#s50)"/>
<polygon points="382,196 446,196 446,226 432,232 428,245 428,268 430,290 435,305 445,320 455,335.4 382,335.4" fill="#3c0a9c"/>
<polygon points="382,196 446,196 446,201 438,202.3 430,203.9 420,205.4 410,207 400,210 382,214.7" fill="#f00000"/>
<polygon points="382,214.7 400,210 410,207 420,205.4 430,203.9 438,202.3 446,201 446,203 438,204.3 430,205.9 420,207.4 410,209 400,212 382,216.7" fill="#d0e820"/>
<polygon points="382,216.7 400,212 410,209 420,207.4 430,205.9 438,204.3 446,203 446,206 438,207.3 430,208.9 420,210.4 410,212 400,215 382,219.7" fill="#40d8b0"/>
<polygon points="382,219.7 400,215 410,212 420,210.4 430,208.9 438,207.3 446,206 446,226 438,230 430,231 410,240 382,251" fill="#1448e0"/>
<polygon points="382,223 400,221 420,219 424,221 400,225 382,228" fill="#a0e840"/>
<polygon points="382,228 400,225 424,221 432,224 432,230 410,240 382,251" fill="url(#g15)"/>
<polygon points="382,228 430,222 430,250 382,252" fill="#1448e0" mask="url(#s15)"/>
<polygon points="382,251 410,240 430,231 430,236 410,245 382,256" fill="#2038d0" fill-opacity="0.8"/>
<polygon points="382,270 428,270 428.5,280 410,286 382,298" fill="#38087c"/>
<polygon points="382,252 428,236 428,270 382,270" fill="#4012a8" fill-opacity="0.8"/>
<polygon points="382,269.3 427,269.3 427,270.6 382,270.6" fill="#101010"/>
<polygon points="382,298 410,286 425,277 428,276 429,285 412,292 382,304" fill="#2030e0"/>
<polygon points="382,304 412,292 429,285 431,292 414,300 382,312" fill="#2890f0"/>
<polygon points="382,312 414,300 431,292 435,305 420,310 400,318 382,324" fill="#30d0e0"/>
<polygon points="382,324 400,318 420,310 436,304 440,312 420,318 400,326 382,332" fill="#40e070"/>
<polygon points="382,332 400,326 420,318 440,312 443,316 420,322 398,329 382,335.4" fill="#e0e800"/>
<polygon points="390,335.4 398,329 420,322 443,316 446,320 455,335.4" fill="#f00000"/>
<polygon points="382,300 400,290 425,280 430,300 400,315 382,320" fill="#40c0f0" mask="url(#s15)"/>
<polygon points="446,196 467.6,196 467.6,228 450,228 438,230 446,214" fill="#1444e0"/>
<polygon points="434,228 467.6,228 467.6,335 440,335 430,290 428,245" fill="#2050f0" mask="url(#s05)"/>
</g>
<line x1="307.8" y1="196" x2="307.8" y2="335.4" stroke="#444" stroke-width="0.8" stroke-dasharray="1 2.2"/>
<line x1="332.4" y1="196" x2="332.4" y2="335.4" stroke="#444" stroke-width="0.8" stroke-dasharray="1 2.2"/>
<line x1="357" y1="196" x2="357" y2="335.4" stroke="#444" stroke-width="0.8" stroke-dasharray="1 2.2"/>
<line x1="381.6" y1="196" x2="381.6" y2="335.4" stroke="#444" stroke-width="0.8" stroke-dasharray="1 2.2"/>
<line x1="406.1" y1="196" x2="406.1" y2="335.4" stroke="#444" stroke-width="0.8" stroke-dasharray="1 2.2"/>
<line x1="430.7" y1="196" x2="430.7" y2="335.4" stroke="#444" stroke-width="0.8" stroke-dasharray="1 2.2"/>
<line x1="455.3" y1="196" x2="455.3" y2="335.4" stroke="#444" stroke-width="0.8" stroke-dasharray="1 2.2"/>
<line x1="295.5" y1="321.5" x2="467.6" y2="321.5" stroke="#444" stroke-width="0.8" stroke-dasharray="1 2.2"/>
<line x1="295.5" y1="307.5" x2="467.6" y2="307.5" stroke="#444" stroke-width="0.8" stroke-dasharray="1 2.2"/>
<line x1="295.5" y1="293.6" x2="467.6" y2="293.6" stroke="#444" stroke-width="0.8" stroke-dasharray="1 2.2"/>
<line x1="295.5" y1="279.6" x2="467.6" y2="279.6" stroke="#444" stroke-width="0.8" stroke-dasharray="1 2.2"/>
<line x1="295.5" y1="265.7" x2="467.6" y2="265.7" stroke="#444" stroke-width="0.8" stroke-dasharray="1 2.2"/>
<line x1="295.5" y1="251.8" x2="467.6" y2="251.8" stroke="#444" stroke-width="0.8" stroke-dasharray="1 2.2"/>
<line x1="295.5" y1="237.8" x2="467.6" y2="237.8" stroke="#444" stroke-width="0.8" stroke-dasharray="1 2.2"/>
<line x1="295.5" y1="223.9" x2="467.6" y2="223.9" stroke="#444" stroke-width="0.8" stroke-dasharray="1 2.2"/>
<line x1="295.5" y1="209.9" x2="467.6" y2="209.9" stroke="#444" stroke-width="0.8" stroke-dasharray="1 2.2"/>
<polyline points="295.5,207 332.4,214.1 357,218 379.1,214.1 406.1,203 428.3,194.6" fill="none" stroke="#666" stroke-width="0.6" stroke-linejoin="round" stroke-linecap="round" stroke-dasharray="3.5 3" stroke-linecap="butt"/>
<polyline points="295.5,228.1 332.4,235 357,239.1 379.1,235 406.1,223.9 428.3,213.6 467.6,196" fill="none" stroke="#666" stroke-width="0.6" stroke-linejoin="round" stroke-linecap="round" stroke-dasharray="3.5 3" stroke-linecap="butt"/>
<polyline points="295.5,249 332.4,255.9 357,260 379.1,255.9 406.1,244.8 428.3,232.2 467.6,214.1" fill="none" stroke="#666" stroke-width="0.6" stroke-linejoin="round" stroke-linecap="round" stroke-dasharray="3.5 3" stroke-linecap="butt"/>
<polyline points="295.5,270 332.4,276.9 357,282 379.1,276.9 406.1,264.3 428.3,250.1 467.6,232.2" fill="none" stroke="#666" stroke-width="0.6" stroke-linejoin="round" stroke-linecap="round" stroke-dasharray="3.5 3" stroke-linecap="butt"/>
<polyline points="295.5,291.1 332.4,299.2 357,305 379.1,299.2 406.1,288 430.7,275.5 467.6,257.3" fill="none" stroke="#666" stroke-width="0.6" stroke-linejoin="round" stroke-linecap="round" stroke-dasharray="3.5 3" stroke-linecap="butt"/>
<polyline points="295.5,313 332.4,321.5 357,327 379.1,321.5 406.1,311.7 434.4,299.2 467.6,282.4" fill="none" stroke="#666" stroke-width="0.6" stroke-linejoin="round" stroke-linecap="round" stroke-dasharray="3.5 3" stroke-linecap="butt"/>
<polyline points="295.5,334 332.4,342.4 379.1,342.4 406.1,332.6 434.4,321.5 467.6,304.7" fill="none" stroke="#666" stroke-width="0.6" stroke-linejoin="round" stroke-linecap="round" stroke-dasharray="3.5 3" stroke-linecap="butt"/>
<polyline points="299.2,196 302.3,200.2 302.9,207.2 304.7,213.4 307.2,217.6 311.5,220.4 313.3,223.9 315.2,227.4 317.6,230.8 320.1,233.6 318.9,230.8 317,226.7 314.6,222.1 317,223.9 318.9,226.7 321.3,230.2 325,234.3 325.9,237.8 329.9,240.6 334.8,243.4 339.8,243.4 342.2,245.5 347.1,247.3 349.6,249 350.2,251.1 352,252.5 354.5,254.1 357,255.2 358.2,253.2 360,255.2 359.4,260.1 360.7,261.5 357,265.7 355.7,269.9 355.7,274.1 358.2,276.9 361.9,285.2 368,290.8 368.9,297.8 367.4,307.5 366.2,317.3 365,324.2 364.3,329.8 362.5,335.4" fill="none" stroke="#222" stroke-width="0.6" stroke-linejoin="round" stroke-linecap="round" />
<polyline points="374.2,203 369.3,205.1 369.3,207.2 364.3,209.2 362.5,212.7 361.9,216.9 359.4,218.7 355.7,221.8 356.3,226.7 357,230.2 355.7,230.6 353.9,227.4 353.3,224.6 350.8,224.3 345.9,223.6 344.7,225.3 339.8,224.6 336.1,227.4 335.5,230.8 335.5,235 337.3,239.2 339.1,240.3 343.4,239.9 344.1,236.4 348.4,235.7 347.7,239.9 346.5,243.4 352,243.7 352.7,249 352.7,250.4 354.5,252.9 357.6,252.5 360.7,253.9 361.9,252.5 363.1,250.4 366.8,249 367.4,251.1 369.3,249 372.9,251.1 377.9,251.1 380.3,253.2 382.8,255.2 385.2,257.3 388.9,257.8 392,259.7 393.8,263.6 396.3,267.1 401.2,269.2 406.1,269.9 409.8,272.7 412.3,275.5 412.3,278.2 409.8,282.4 407.4,286.6 406.8,290.8 404.9,296.4 402.4,297.8 398.8,299.2 395.7,303.3 393.2,308.9 390.2,313.1 387.7,314.5 384,313.8 384.6,316.6 384.6,318.7 379.1,320.1 378.7,322.2 375.4,322.9 376.6,325.6 374.8,328.4 372.3,330.5 371.1,335.4" fill="none" stroke="#222" stroke-width="0.6" stroke-linejoin="round" stroke-linecap="round" />
<polyline points="350.8,235.3 354.5,233.6 359.4,234.3 364.1,237.5 360,238 357,235.5 353.3,235 350.8,235.3" fill="none" stroke="#222" stroke-width="0.6" stroke-linejoin="round" stroke-linecap="round" />
<polyline points="363.7,239.9 366.8,238.1 371.1,239.6 367.4,241 363.7,239.9" fill="none" stroke="#222" stroke-width="0.6" stroke-linejoin="round" stroke-linecap="round" />
<polyline points="342.2,200.6 347.1,198.8 351.4,200.9 348.4,204.4 347.7,207.6 349.6,205.1 351.4,201.9 353.9,205.8 358.2,205.3 361.9,204.4 357.2,206.5 352.7,207.6 353.9,202.6 357,203 356.3,200.9 351.4,200.9" fill="none" stroke="#222" stroke-width="0.6" stroke-linejoin="round" stroke-linecap="round" />
<polyline points="361.9,204.4 368,200.5 374.2,197.1 376,197.8 374.2,199.5 375.6,201.6 374.2,203" fill="none" stroke="#222" stroke-width="0.6" stroke-linejoin="round" stroke-linecap="round" />
<polyline points="374.2,203.7 376.6,202.3 380.3,202.3 381.6,201.3 377.9,203.7 374.2,204.6" fill="none" stroke="#222" stroke-width="0.6" stroke-linejoin="round" stroke-linecap="round" />
<polyline points="382.4,199.3 386.5,193.8 390.2,197.4 390.5,199.5 387.1,200.2 382.4,199.3" fill="none" stroke="#222" stroke-width="0.6" stroke-linejoin="round" stroke-linecap="round" />
<polyline points="444.2,205.8 443.6,211.3 444.5,214.1 447.9,215.1 448.5,215.5 452.8,214.4 455.3,211.8 459,207.2 459.4,205.3 462.7,205.8 467.6,204.4" fill="none" stroke="#222" stroke-width="0.6" stroke-linejoin="round" stroke-linecap="round" />
<polyline points="453.5,205.1 453.8,201.6 452.2,199.8 449.5,198.8 453.3,197.8 453.5,196.4 457.8,196" fill="none" stroke="#222" stroke-width="0.6" stroke-linejoin="round" stroke-linecap="round" />
<polyline points="467.6,214.1 465.8,214.3 461.5,214.4 455.3,215.8 452.8,216.8 448.1,215.8 446.9,218.3 443.6,220.4 443.3,224.6 439.3,227.2 437.5,229.5 435.6,232.2 434.4,236.4 435,238.5 435.4,242 434,245.2 434.8,248.3 436.9,250.4 438.7,252.5 440.6,255.2 443,257.3 446.1,259.6 450.4,258.5 454.1,258.7 456.5,257.3 460.8,256.9 462.7,259.7 465.8,259.4 467.2,260.8 467.1,263.6 466.7,267.1 467.6,269.2 469.8,272" fill="none" stroke="#222" stroke-width="0.6" stroke-linejoin="round" stroke-linecap="round" />
<polyline points="298.8,196 334,335.4" fill="none" stroke="#5a1ed2" stroke-width="1.5" stroke-linejoin="round" stroke-linecap="round" />
<polyline points="342,196 376,335.4" fill="none" stroke="#000" stroke-width="1.5" stroke-linejoin="round" stroke-linecap="round" />
<text x="427.6" y="216.6" transform="rotate(0 427.6 213.6)" font-family="Liberation Sans, sans-serif" font-weight="bold" font-size="8.6" text-anchor="middle" fill="#000">30°</text>
<text x="427.3" y="253.1" transform="rotate(0 427.3 250.1)" font-family="Liberation Sans, sans-serif" font-weight="bold" font-size="8.6" text-anchor="middle" fill="#000">0°</text>
<text x="434.4" y="302.2" transform="rotate(-28 434.4 299.2)" font-family="Liberation Sans, sans-serif" font-weight="bold" font-size="8.6" text-anchor="middle" fill="#000">-30°</text>
</g>
<rect x="295.5" y="196" width="172.1" height="139.4" fill="none" stroke="#666" stroke-width="0.9"/>
<line x1="295.1" y1="335.4" x2="468" y2="335.4" stroke="#111" stroke-width="1.1"/>
<line x1="295.5" y1="335.4" x2="295.5" y2="333.9" stroke="#000" stroke-width="0.6"/>
<line x1="295.5" y1="196" x2="295.5" y2="197.5" stroke="#000" stroke-width="0.6"/>
<line x1="301.6" y1="335.4" x2="301.6" y2="333.9" stroke="#000" stroke-width="0.6"/>
<line x1="301.6" y1="196" x2="301.6" y2="197.5" stroke="#000" stroke-width="0.6"/>
<line x1="307.8" y1="335.4" x2="307.8" y2="332.9" stroke="#000" stroke-width="0.6"/>
<line x1="307.8" y1="196" x2="307.8" y2="198.5" stroke="#000" stroke-width="0.6"/>
<line x1="313.9" y1="335.4" x2="313.9" y2="333.9" stroke="#000" stroke-width="0.6"/>
<line x1="313.9" y1="196" x2="313.9" y2="197.5" stroke="#000" stroke-width="0.6"/>
<line x1="320.1" y1="335.4" x2="320.1" y2="333.9" stroke="#000" stroke-width="0.6"/>
<line x1="320.1" y1="196" x2="320.1" y2="197.5" stroke="#000" stroke-width="0.6"/>
<line x1="326.2" y1="335.4" x2="326.2" y2="333.9" stroke="#000" stroke-width="0.6"/>
<line x1="326.2" y1="196" x2="326.2" y2="197.5" stroke="#000" stroke-width="0.6"/>
<line x1="332.4" y1="335.4" x2="332.4" y2="332.9" stroke="#000" stroke-width="0.6"/>
<line x1="332.4" y1="196" x2="332.4" y2="198.5" stroke="#000" stroke-width="0.6"/>
<line x1="338.5" y1="335.4" x2="338.5" y2="333.9" stroke="#000" stroke-width="0.6"/>
<line x1="338.5" y1="196" x2="338.5" y2="197.5" stroke="#000" stroke-width="0.6"/>
<line x1="344.7" y1="335.4" x2="344.7" y2="333.9" stroke="#000" stroke-width="0.6"/>
<line x1="344.7" y1="196" x2="344.7" y2="197.5" stroke="#000" stroke-width="0.6"/>
<line x1="350.8" y1="335.4" x2="350.8" y2="333.9" stroke="#000" stroke-width="0.6"/>
<line x1="350.8" y1="196" x2="350.8" y2="197.5" stroke="#000" stroke-width="0.6"/>
<line x1="357" y1="335.4" x2="357" y2="332.9" stroke="#000" stroke-width="0.6"/>
<line x1="357" y1="196" x2="357" y2="198.5" stroke="#000" stroke-width="0.6"/>
<line x1="363.1" y1="335.4" x2="363.1" y2="333.9" stroke="#000" stroke-width="0.6"/>
<line x1="363.1" y1="196" x2="363.1" y2="197.5" stroke="#000" stroke-width="0.6"/>
<line x1="369.3" y1="335.4" x2="369.3" y2="333.9" stroke="#000" stroke-width="0.6"/>
<line x1="369.3" y1="196" x2="369.3" y2="197.5" stroke="#000" stroke-width="0.6"/>
<line x1="375.4" y1="335.4" x2="375.4" y2="333.9" stroke="#000" stroke-width="0.6"/>
<line x1="375.4" y1="196" x2="375.4" y2="197.5" stroke="#000" stroke-width="0.6"/>
<line x1="381.6" y1="335.4" x2="381.6" y2="332.9" stroke="#000" stroke-width="0.6"/>
<line x1="381.6" y1="196" x2="381.6" y2="198.5" stroke="#000" stroke-width="0.6"/>
<line x1="387.7" y1="335.4" x2="387.7" y2="333.9" stroke="#000" stroke-width="0.6"/>
<line x1="387.7" y1="196" x2="387.7" y2="197.5" stroke="#000" stroke-width="0.6"/>
<line x1="393.8" y1="335.4" x2="393.8" y2="333.9" stroke="#000" stroke-width="0.6"/>
<line x1="393.8" y1="196" x2="393.8" y2="197.5" stroke="#000" stroke-width="0.6"/>
<line x1="400" y1="335.4" x2="400" y2="333.9" stroke="#000" stroke-width="0.6"/>
<line x1="400" y1="196" x2="400" y2="197.5" stroke="#000" stroke-width="0.6"/>
<line x1="406.1" y1="335.4" x2="406.1" y2="332.9" stroke="#000" stroke-width="0.6"/>
<line x1="406.1" y1="196" x2="406.1" y2="198.5" stroke="#000" stroke-width="0.6"/>
<line x1="412.3" y1="335.4" x2="412.3" y2="333.9" stroke="#000" stroke-width="0.6"/>
<line x1="412.3" y1="196" x2="412.3" y2="197.5" stroke="#000" stroke-width="0.6"/>
<line x1="418.4" y1="335.4" x2="418.4" y2="333.9" stroke="#000" stroke-width="0.6"/>
<line x1="418.4" y1="196" x2="418.4" y2="197.5" stroke="#000" stroke-width="0.6"/>
<line x1="424.6" y1="335.4" x2="424.6" y2="333.9" stroke="#000" stroke-width="0.6"/>
<line x1="424.6" y1="196" x2="424.6" y2="197.5" stroke="#000" stroke-width="0.6"/>
<line x1="430.7" y1="335.4" x2="430.7" y2="332.9" stroke="#000" stroke-width="0.6"/>
<line x1="430.7" y1="196" x2="430.7" y2="198.5" stroke="#000" stroke-width="0.6"/>
<line x1="436.9" y1="335.4" x2="436.9" y2="333.9" stroke="#000" stroke-width="0.6"/>
<line x1="436.9" y1="196" x2="436.9" y2="197.5" stroke="#000" stroke-width="0.6"/>
<line x1="443" y1="335.4" x2="443" y2="333.9" stroke="#000" stroke-width="0.6"/>
<line x1="443" y1="196" x2="443" y2="197.5" stroke="#000" stroke-width="0.6"/>
<line x1="449.2" y1="335.4" x2="449.2" y2="333.9" stroke="#000" stroke-width="0.6"/>
<line x1="449.2" y1="196" x2="449.2" y2="197.5" stroke="#000" stroke-width="0.6"/>
<line x1="455.3" y1="335.4" x2="455.3" y2="332.9" stroke="#000" stroke-width="0.6"/>
<line x1="455.3" y1="196" x2="455.3" y2="198.5" stroke="#000" stroke-width="0.6"/>
<line x1="461.5" y1="335.4" x2="461.5" y2="333.9" stroke="#000" stroke-width="0.6"/>
<line x1="461.5" y1="196" x2="461.5" y2="197.5" stroke="#000" stroke-width="0.6"/>
<line x1="467.6" y1="335.4" x2="467.6" y2="333.9" stroke="#000" stroke-width="0.6"/>
<line x1="467.6" y1="196" x2="467.6" y2="197.5" stroke="#000" stroke-width="0.6"/>
<line x1="295.5" y1="335.4" x2="298" y2="335.4" stroke="#000" stroke-width="0.6"/>
<line x1="467.6" y1="335.4" x2="465.1" y2="335.4" stroke="#000" stroke-width="0.6"/>
<line x1="295.5" y1="328.4" x2="297" y2="328.4" stroke="#000" stroke-width="0.6"/>
<line x1="467.6" y1="328.4" x2="466.1" y2="328.4" stroke="#000" stroke-width="0.6"/>
<line x1="295.5" y1="321.5" x2="298" y2="321.5" stroke="#000" stroke-width="0.6"/>
<line x1="467.6" y1="321.5" x2="465.1" y2="321.5" stroke="#000" stroke-width="0.6"/>
<line x1="295.5" y1="314.5" x2="297" y2="314.5" stroke="#000" stroke-width="0.6"/>
<line x1="467.6" y1="314.5" x2="466.1" y2="314.5" stroke="#000" stroke-width="0.6"/>
<line x1="295.5" y1="307.5" x2="298" y2="307.5" stroke="#000" stroke-width="0.6"/>
<line x1="467.6" y1="307.5" x2="465.1" y2="307.5" stroke="#000" stroke-width="0.6"/>
<line x1="295.5" y1="300.5" x2="297" y2="300.5" stroke="#000" stroke-width="0.6"/>
<line x1="467.6" y1="300.5" x2="466.1" y2="300.5" stroke="#000" stroke-width="0.6"/>
<line x1="295.5" y1="293.6" x2="298" y2="293.6" stroke="#000" stroke-width="0.6"/>
<line x1="467.6" y1="293.6" x2="465.1" y2="293.6" stroke="#000" stroke-width="0.6"/>
<line x1="295.5" y1="286.6" x2="297" y2="286.6" stroke="#000" stroke-width="0.6"/>
<line x1="467.6" y1="286.6" x2="466.1" y2="286.6" stroke="#000" stroke-width="0.6"/>
<line x1="295.5" y1="279.6" x2="298" y2="279.6" stroke="#000" stroke-width="0.6"/>
<line x1="467.6" y1="279.6" x2="465.1" y2="279.6" stroke="#000" stroke-width="0.6"/>
<line x1="295.5" y1="272.7" x2="297" y2="272.7" stroke="#000" stroke-width="0.6"/>
<line x1="467.6" y1="272.7" x2="466.1" y2="272.7" stroke="#000" stroke-width="0.6"/>
<line x1="295.5" y1="265.7" x2="298" y2="265.7" stroke="#000" stroke-width="0.6"/>
<line x1="467.6" y1="265.7" x2="465.1" y2="265.7" stroke="#000" stroke-width="0.6"/>
<line x1="295.5" y1="258.7" x2="297" y2="258.7" stroke="#000" stroke-width="0.6"/>
<line x1="467.6" y1="258.7" x2="466.1" y2="258.7" stroke="#000" stroke-width="0.6"/>
<line x1="295.5" y1="251.8" x2="298" y2="251.8" stroke="#000" stroke-width="0.6"/>
<line x1="467.6" y1="251.8" x2="465.1" y2="251.8" stroke="#000" stroke-width="0.6"/>
<line x1="295.5" y1="244.8" x2="297" y2="244.8" stroke="#000" stroke-width="0.6"/>
<line x1="467.6" y1="244.8" x2="466.1" y2="244.8" stroke="#000" stroke-width="0.6"/>
<line x1="295.5" y1="237.8" x2="298" y2="237.8" stroke="#000" stroke-width="0.6"/>
<line x1="467.6" y1="237.8" x2="465.1" y2="237.8" stroke="#000" stroke-width="0.6"/>
<line x1="295.5" y1="230.8" x2="297" y2="230.8" stroke="#000" stroke-width="0.6"/>
<line x1="467.6" y1="230.8" x2="466.1" y2="230.8" stroke="#000" stroke-width="0.6"/>
<line x1="295.5" y1="223.9" x2="298" y2="223.9" stroke="#000" stroke-width="0.6"/>
<line x1="467.6" y1="223.9" x2="465.1" y2="223.9" stroke="#000" stroke-width="0.6"/>
<line x1="295.5" y1="216.9" x2="297" y2="216.9" stroke="#000" stroke-width="0.6"/>
<line x1="467.6" y1="216.9" x2="466.1" y2="216.9" stroke="#000" stroke-width="0.6"/>
<line x1="295.5" y1="209.9" x2="298" y2="209.9" stroke="#000" stroke-width="0.6"/>
<line x1="467.6" y1="209.9" x2="465.1" y2="209.9" stroke="#000" stroke-width="0.6"/>
<line x1="295.5" y1="203" x2="297" y2="203" stroke="#000" stroke-width="0.6"/>
<line x1="467.6" y1="203" x2="466.1" y2="203" stroke="#000" stroke-width="0.6"/>
<line x1="295.5" y1="196" x2="298" y2="196" stroke="#000" stroke-width="0.6"/>
<line x1="467.6" y1="196" x2="465.1" y2="196" stroke="#000" stroke-width="0.6"/>
<text x="307.8" y="346.4" font-family="Liberation Sans, sans-serif" font-weight="bold" font-size="8.6" text-anchor="middle">-120</text>
<text x="332.4" y="346.4" font-family="Liberation Sans, sans-serif" font-weight="bold" font-size="8.6" text-anchor="middle">-100</text>
<text x="357" y="346.4" font-family="Liberation Sans, sans-serif" font-weight="bold" font-size="8.6" text-anchor="middle">-80</text>
<text x="381.6" y="346.4" font-family="Liberation Sans, sans-serif" font-weight="bold" font-size="8.6" text-anchor="middle">-60</text>
<text x="406.1" y="346.4" font-family="Liberation Sans, sans-serif" font-weight="bold" font-size="8.6" text-anchor="middle">-40</text>
<text x="430.7" y="346.4" font-family="Liberation Sans, sans-serif" font-weight="bold" font-size="8.6" text-anchor="middle">-20</text>
<text x="455.3" y="346.4" font-family="Liberation Sans, sans-serif" font-weight="bold" font-size="8.6" text-anchor="middle">0</text>
<text x="293.9" y="324.5" font-family="Liberation Sans, sans-serif" font-weight="bold" font-size="8.5" text-anchor="end">-40</text>
<text x="293.9" y="296.6" font-family="Liberation Sans, sans-serif" font-weight="bold" font-size="8.5" text-anchor="end">-20</text>
<text x="293.9" y="268.7" font-family="Liberation Sans, sans-serif" font-weight="bold" font-size="8.5" text-anchor="end">0</text>
<text x="293.9" y="240.8" font-family="Liberation Sans, sans-serif" font-weight="bold" font-size="8.5" text-anchor="end">20</text>
<text x="293.9" y="212.9" font-family="Liberation Sans, sans-serif" font-weight="bold" font-size="8.5" text-anchor="end">40</text>
<text x="381.6" y="355.9" font-family="Liberation Sans, sans-serif" font-weight="bold" font-size="8.7" text-anchor="middle">Longitude (°)</text>
<text x="381.6" y="191.6" font-family="Liberation Sans, sans-serif" font-weight="bold" font-size="10.85" text-anchor="middle">(d) 2024-05-10 23:25 UT</text>
<rect x="486.5" y="196" width="59.1" height="139.4" fill="#fff" stroke="#777" stroke-width="0.8"/>
<line x1="486.5" y1="335.4" x2="486.5" y2="332.9" stroke="#777" stroke-width="0.5"/>
<line x1="486.5" y1="196" x2="486.5" y2="198.5" stroke="#777" stroke-width="0.5"/>
<line x1="493.8" y1="335.4" x2="493.8" y2="334.1" stroke="#777" stroke-width="0.5"/>
<line x1="493.8" y1="196" x2="493.8" y2="197.3" stroke="#777" stroke-width="0.5"/>
<line x1="498" y1="335.4" x2="498" y2="334.1" stroke="#777" stroke-width="0.5"/>
<line x1="498" y1="196" x2="498" y2="197.3" stroke="#777" stroke-width="0.5"/>
<line x1="501.1" y1="335.4" x2="501.1" y2="334.1" stroke="#777" stroke-width="0.5"/>
<line x1="501.1" y1="196" x2="501.1" y2="197.3" stroke="#777" stroke-width="0.5"/>
<line x1="503.4" y1="335.4" x2="503.4" y2="334.1" stroke="#777" stroke-width="0.5"/>
<line x1="503.4" y1="196" x2="503.4" y2="197.3" stroke="#777" stroke-width="0.5"/>
<line x1="505.3" y1="335.4" x2="505.3" y2="334.1" stroke="#777" stroke-width="0.5"/>
<line x1="505.3" y1="196" x2="505.3" y2="197.3" stroke="#777" stroke-width="0.5"/>
<line x1="507" y1="335.4" x2="507" y2="334.1" stroke="#777" stroke-width="0.5"/>
<line x1="507" y1="196" x2="507" y2="197.3" stroke="#777" stroke-width="0.5"/>
<line x1="508.4" y1="335.4" x2="508.4" y2="334.1" stroke="#777" stroke-width="0.5"/>
<line x1="508.4" y1="196" x2="508.4" y2="197.3" stroke="#777" stroke-width="0.5"/>
<line x1="509.6" y1="335.4" x2="509.6" y2="334.1" stroke="#777" stroke-width="0.5"/>
<line x1="509.6" y1="196" x2="509.6" y2="197.3" stroke="#777" stroke-width="0.5"/>
<line x1="510.7" y1="335.4" x2="510.7" y2="332.9" stroke="#777" stroke-width="0.5"/>
<line x1="510.7" y1="196" x2="510.7" y2="198.5" stroke="#777" stroke-width="0.5"/>
<line x1="518" y1="335.4" x2="518" y2="334.1" stroke="#777" stroke-width="0.5"/>
<line x1="518" y1="196" x2="518" y2="197.3" stroke="#777" stroke-width="0.5"/>
<line x1="522.2" y1="335.4" x2="522.2" y2="334.1" stroke="#777" stroke-width="0.5"/>
<line x1="522.2" y1="196" x2="522.2" y2="197.3" stroke="#777" stroke-width="0.5"/>
<line x1="525.3" y1="335.4" x2="525.3" y2="334.1" stroke="#777" stroke-width="0.5"/>
<line x1="525.3" y1="196" x2="525.3" y2="197.3" stroke="#777" stroke-width="0.5"/>
<line x1="527.6" y1="335.4" x2="527.6" y2="334.1" stroke="#777" stroke-width="0.5"/>
<line x1="527.6" y1="196" x2="527.6" y2="197.3" stroke="#777" stroke-width="0.5"/>
<line x1="529.5" y1="335.4" x2="529.5" y2="334.1" stroke="#777" stroke-width="0.5"/>
<line x1="529.5" y1="196" x2="529.5" y2="197.3" stroke="#777" stroke-width="0.5"/>
<line x1="531.2" y1="335.4" x2="531.2" y2="334.1" stroke="#777" stroke-width="0.5"/>
<line x1="531.2" y1="196" x2="531.2" y2="197.3" stroke="#777" stroke-width="0.5"/>
<line x1="532.6" y1="335.4" x2="532.6" y2="334.1" stroke="#777" stroke-width="0.5"/>
<line x1="532.6" y1="196" x2="532.6" y2="197.3" stroke="#777" stroke-width="0.5"/>
<line x1="533.8" y1="335.4" x2="533.8" y2="334.1" stroke="#777" stroke-width="0.5"/>
<line x1="533.8" y1="196" x2="533.8" y2="197.3" stroke="#777" stroke-width="0.5"/>
<line x1="534.9" y1="335.4" x2="534.9" y2="332.9" stroke="#777" stroke-width="0.5"/>
<line x1="534.9" y1="196" x2="534.9" y2="198.5" stroke="#777" stroke-width="0.5"/>
<line x1="542.2" y1="335.4" x2="542.2" y2="334.1" stroke="#777" stroke-width="0.5"/>
<line x1="542.2" y1="196" x2="542.2" y2="197.3" stroke="#777" stroke-width="0.5"/>
<line x1="486.5" y1="335.4" x2="489" y2="335.4" stroke="#999" stroke-width="0.4"/>
<line x1="545.6" y1="335.4" x2="543.1" y2="335.4" stroke="#999" stroke-width="0.4"/>
<line x1="486.5" y1="328.4" x2="488" y2="328.4" stroke="#999" stroke-width="0.4"/>
<line x1="545.6" y1="328.4" x2="544.1" y2="328.4" stroke="#999" stroke-width="0.4"/>
<line x1="486.5" y1="321.5" x2="489" y2="321.5" stroke="#999" stroke-width="0.4"/>
<line x1="545.6" y1="321.5" x2="543.1" y2="321.5" stroke="#999" stroke-width="0.4"/>
<line x1="486.5" y1="314.5" x2="488" y2="314.5" stroke="#999" stroke-width="0.4"/>
<line x1="545.6" y1="314.5" x2="544.1" y2="314.5" stroke="#999" stroke-width="0.4"/>
<line x1="486.5" y1="307.5" x2="489" y2="307.5" stroke="#999" stroke-width="0.4"/>
<line x1="545.6" y1="307.5" x2="543.1" y2="307.5" stroke="#999" stroke-width="0.4"/>
<line x1="486.5" y1="300.5" x2="488" y2="300.5" stroke="#999" stroke-width="0.4"/>
<line x1="545.6" y1="300.5" x2="544.1" y2="300.5" stroke="#999" stroke-width="0.4"/>
<line x1="486.5" y1="293.6" x2="489" y2="293.6" stroke="#999" stroke-width="0.4"/>
<line x1="545.6" y1="293.6" x2="543.1" y2="293.6" stroke="#999" stroke-width="0.4"/>
<line x1="486.5" y1="286.6" x2="488" y2="286.6" stroke="#999" stroke-width="0.4"/>
<line x1="545.6" y1="286.6" x2="544.1" y2="286.6" stroke="#999" stroke-width="0.4"/>
<line x1="486.5" y1="279.6" x2="489" y2="279.6" stroke="#999" stroke-width="0.4"/>
<line x1="545.6" y1="279.6" x2="543.1" y2="279.6" stroke="#999" stroke-width="0.4"/>
<line x1="486.5" y1="272.7" x2="488" y2="272.7" stroke="#999" stroke-width="0.4"/>
<line x1="545.6" y1="272.7" x2="544.1" y2="272.7" stroke="#999" stroke-width="0.4"/>
<line x1="486.5" y1="265.7" x2="489" y2="265.7" stroke="#999" stroke-width="0.4"/>
<line x1="545.6" y1="265.7" x2="543.1" y2="265.7" stroke="#999" stroke-width="0.4"/>
<line x1="486.5" y1="258.7" x2="488" y2="258.7" stroke="#999" stroke-width="0.4"/>
<line x1="545.6" y1="258.7" x2="544.1" y2="258.7" stroke="#999" stroke-width="0.4"/>
<line x1="486.5" y1="251.8" x2="489" y2="251.8" stroke="#999" stroke-width="0.4"/>
<line x1="545.6" y1="251.8" x2="543.1" y2="251.8" stroke="#999" stroke-width="0.4"/>
<line x1="486.5" y1="244.8" x2="488" y2="244.8" stroke="#999" stroke-width="0.4"/>
<line x1="545.6" y1="244.8" x2="544.1" y2="244.8" stroke="#999" stroke-width="0.4"/>
<line x1="486.5" y1="237.8" x2="489" y2="237.8" stroke="#999" stroke-width="0.4"/>
<line x1="545.6" y1="237.8" x2="543.1" y2="237.8" stroke="#999" stroke-width="0.4"/>
<line x1="486.5" y1="230.8" x2="488" y2="230.8" stroke="#999" stroke-width="0.4"/>
<line x1="545.6" y1="230.8" x2="544.1" y2="230.8" stroke="#999" stroke-width="0.4"/>
<line x1="486.5" y1="223.9" x2="489" y2="223.9" stroke="#999" stroke-width="0.4"/>
<line x1="545.6" y1="223.9" x2="543.1" y2="223.9" stroke="#999" stroke-width="0.4"/>
<line x1="486.5" y1="216.9" x2="488" y2="216.9" stroke="#999" stroke-width="0.4"/>
<line x1="545.6" y1="216.9" x2="544.1" y2="216.9" stroke="#999" stroke-width="0.4"/>
<line x1="486.5" y1="209.9" x2="489" y2="209.9" stroke="#999" stroke-width="0.4"/>
<line x1="545.6" y1="209.9" x2="543.1" y2="209.9" stroke="#999" stroke-width="0.4"/>
<line x1="486.5" y1="203" x2="488" y2="203" stroke="#999" stroke-width="0.4"/>
<line x1="545.6" y1="203" x2="544.1" y2="203" stroke="#999" stroke-width="0.4"/>
<line x1="486.5" y1="196" x2="489" y2="196" stroke="#999" stroke-width="0.4"/>
<line x1="545.6" y1="196" x2="543.1" y2="196" stroke="#999" stroke-width="0.4"/>
<text x="484.9" y="324.5" font-family="Liberation Sans, sans-serif" font-weight="bold" font-size="8.5" text-anchor="end">-40</text>
<text x="484.9" y="296.6" font-family="Liberation Sans, sans-serif" font-weight="bold" font-size="8.5" text-anchor="end">-20</text>
<text x="484.9" y="268.7" font-family="Liberation Sans, sans-serif" font-weight="bold" font-size="8.5" text-anchor="end">0</text>
<text x="484.9" y="240.8" font-family="Liberation Sans, sans-serif" font-weight="bold" font-size="8.5" text-anchor="end">20</text>
<text x="484.9" y="212.9" font-family="Liberation Sans, sans-serif" font-weight="bold" font-size="8.5" text-anchor="end">40</text>
<text x="478.9" y="346.4" font-family="Liberation Sans, sans-serif" font-weight="bold" font-size="8.6"><tspan>10</tspan><tspan font-size="5" dy="-3.6">10</tspan></text>
<text x="503.1" y="346.4" font-family="Liberation Sans, sans-serif" font-weight="bold" font-size="8.6"><tspan>10</tspan><tspan font-size="5" dy="-3.6">11</tspan></text>
<text x="527.3" y="346.4" font-family="Liberation Sans, sans-serif" font-weight="bold" font-size="8.6"><tspan>10</tspan><tspan font-size="5" dy="-3.6">12</tspan></text>
<text x="507.1" y="355.2" font-family="Liberation Sans, sans-serif" font-weight="bold" font-size="8.6"><tspan>#/m</tspan><tspan font-size="5" dy="-3.6">3</tspan></text>
<text x="516.2" y="191.6" font-family="Liberation Sans, sans-serif" font-weight="bold" font-size="11" text-anchor="middle">DMSP Ni</text>
<defs><clipPath id="dcd"><rect x="486.5" y="196" width="59.1" height="139.4"/></clipPath></defs>
<g clip-path="url(#dcd)">
<polyline points="519.7,196 525.5,200.7 525.5,210.4 526.4,222 528.4,233.6 533.2,244.3 530.3,251 525.5,258.8 523.5,265.5 525.5,274.6 526,290 528.4,295.9 533.2,300.7 528.4,304.6 523.5,309.4 520.6,319.1 518.7,328.8 517.7,335.4" fill="none" stroke="#5a1ed2" stroke-width="1.75" stroke-linejoin="round" stroke-linecap="round" />
<polyline points="509,196 503,199 508,201 502.2,202.7 506.1,207.5 502,210 497.4,214.3 507,215.2 518.7,217.2 520.6,220 524.5,227.8 527.4,237.5 531.3,247.2 535.1,254.9 529.3,260.7 526.4,267.5 524.9,282.3 524.9,294 527.4,301.7 528.4,309.4 524.5,317.2 520.6,324.9 517.7,332.6 511,335.4" fill="none" stroke="#000" stroke-width="2.0" stroke-linejoin="round" stroke-linecap="round" />
</g>
<line x1="488.8" y1="245.2" x2="501.3" y2="245.2" stroke="#000" stroke-width="1.3"/>
<line x1="488.8" y1="256.6" x2="501.3" y2="256.6" stroke="#5a1ed2" stroke-width="1.3"/>
<text x="503" y="248.4" font-family="Liberation Sans, sans-serif" font-weight="bold" font-size="9">F17</text>
<text x="503" y="259.8" font-family="Liberation Sans, sans-serif" font-weight="bold" font-size="9">F18</text>
<rect x="32" y="359.2" width="163.4" height="3.8" fill="url(#g16)"/>
<line x1="64.7" y1="359.2" x2="64.7" y2="363" stroke="#333" stroke-width="0.5"/>
<line x1="97.4" y1="359.2" x2="97.4" y2="363" stroke="#333" stroke-width="0.5"/>
<line x1="130" y1="359.2" x2="130" y2="363" stroke="#333" stroke-width="0.5"/>
<line x1="162.7" y1="359.2" x2="162.7" y2="363" stroke="#333" stroke-width="0.5"/>
<text x="32" y="373.5" font-family="Liberation Sans, sans-serif" font-weight="bold" font-size="8.6" text-anchor="middle">0</text>
<text x="97.4" y="373.5" font-family="Liberation Sans, sans-serif" font-weight="bold" font-size="8.6" text-anchor="middle">40</text>
<text x="162.7" y="373.5" font-family="Liberation Sans, sans-serif" font-weight="bold" font-size="8.6" text-anchor="middle">80</text>
<text x="113.5" y="383.3" font-family="Liberation Sans, sans-serif" font-weight="bold" font-size="8.8" text-anchor="middle">GNSS TEC [TECU]</text>
<rect x="295.6" y="359.5" width="173.1" height="3.6" fill="url(#g17)"/>
<line x1="338.9" y1="359.5" x2="338.9" y2="363.1" stroke="#333" stroke-width="0.5"/>
<line x1="382.2" y1="359.5" x2="382.2" y2="363.1" stroke="#333" stroke-width="0.5"/>
<line x1="425.4" y1="359.5" x2="425.4" y2="363.1" stroke="#333" stroke-width="0.5"/>
<text x="297" y="373.5" font-family="Liberation Sans, sans-serif" font-weight="bold" font-size="8.6" text-anchor="middle">0</text>
<text x="382" y="373.5" font-family="Liberation Sans, sans-serif" font-weight="bold" font-size="8.6" text-anchor="middle">200</text>
<text x="462.5" y="373.5" font-family="Liberation Sans, sans-serif" font-weight="bold" font-size="8.6" text-anchor="middle">400</text>
<text x="381.5" y="383.3" font-family="Liberation Sans, sans-serif" font-weight="bold" font-size="8.75" text-anchor="middle">GOLD OI 135.6 nm radiance [Rayleigh]</text>
</svg>
</body></html>
